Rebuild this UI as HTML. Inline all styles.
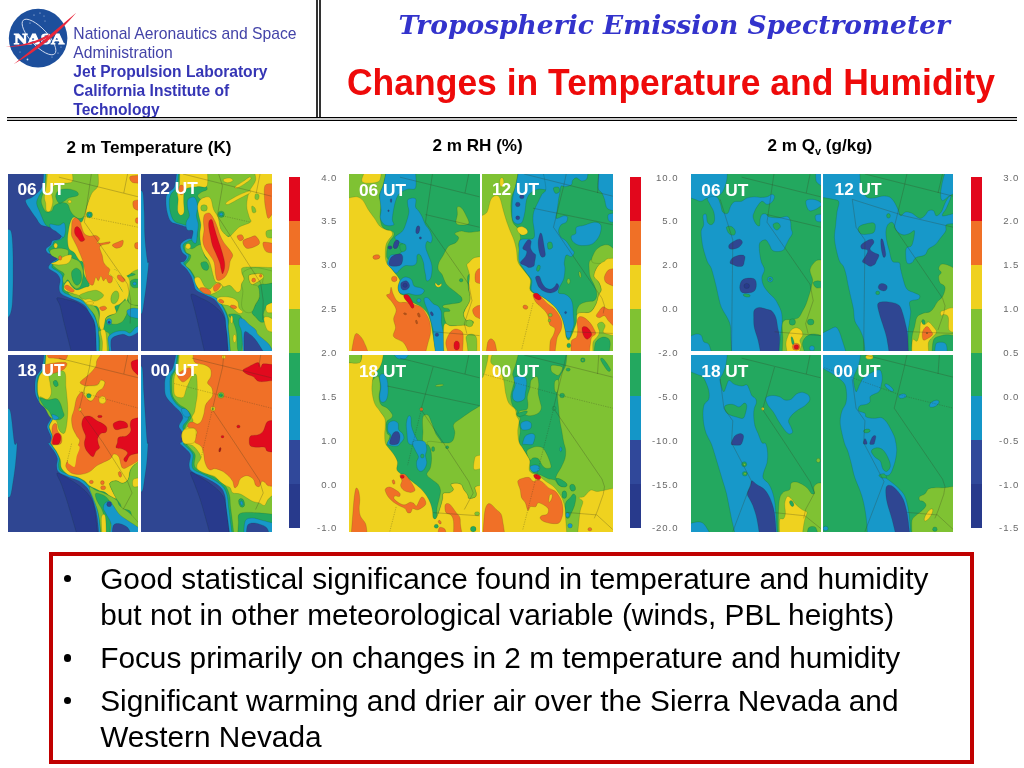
<!DOCTYPE html>
<html lang="en">
<head>
<meta charset="utf-8">
<title>Changes in Temperature and Humidity</title>
<style>
html,body{margin:0;padding:0;background:#fff;}
body{width:1024px;height:768px;position:relative;overflow:hidden;font-family:"Liberation Sans",sans-serif;}
.abs{position:absolute;white-space:nowrap;line-height:1;}
.hl{position:absolute;left:7px;width:1010px;height:1.2px;background:#000;}
.vl{position:absolute;top:0;width:2px;height:118px;background:#333;}
.org{color:#4343a8;font-size:15.7px;left:73.3px;}
.orgb{color:#3535b5;font-size:15.6px;font-weight:bold;left:73.3px;}
.t1{font-family:"DejaVu Serif","Liberation Serif",serif;font-weight:bold;font-style:italic;color:#3333cc;font-size:26.5px;left:398.5px;top:11.7px;transform-origin:0 0;}
.t2{font-weight:bold;color:#ee0a0a;font-size:36.4px;left:346.5px;top:65.1px;transform-origin:0 0;transform:scaleX(.975);}
.gt{font-weight:bold;color:#000;font-size:17.1px;}
.map{position:absolute;display:block;}
.c{stroke:#143214;stroke-opacity:.38;stroke-width:3.2;}
.ut{position:absolute;color:#fff;font-weight:bold;font-size:17.3px;line-height:1;white-space:nowrap;}
.cb{position:absolute;width:11px;top:177px;height:351px;}
.cb i{display:block;height:12.5%;}
.cl{position:absolute;color:#6a6a6a;font-size:9.6px;line-height:1;letter-spacing:.9px;text-align:right;width:40px;}
.box{position:absolute;left:49.1px;top:552.4px;width:916.9px;height:203.4px;border:4.4px solid #c00000;}
.bl{position:absolute;left:100.2px;font-size:29.8px;line-height:1;white-space:nowrap;color:#000;}
.dot{position:absolute;left:63.6px;width:7.6px;height:7.6px;border-radius:50%;background:#000;}
</style>
</head>
<body>
<!-- NASA logo -->
<svg class="abs" style="left:0;top:0" width="90" height="80" viewBox="0 0 90 80">
<circle cx="38.1" cy="38.1" r="29.3" fill="#1d4f9c"/>
<ellipse cx="39" cy="37" rx="8.5" ry="23" fill="none" stroke="#d5def0" stroke-width=".9" transform="rotate(-43 39 37)"/>
<g fill="#c9d6ee"><circle cx="34" cy="15" r=".6"/><circle cx="40" cy="13" r=".6"/><circle cx="44" cy="16" r=".5"/><circle cx="30" cy="23" r=".6"/><circle cx="27.5" cy="59.5" r=".9"/><circle cx="58" cy="53" r=".6"/><circle cx="61" cy="47" r=".5"/><circle cx="20" cy="52" r=".5"/><circle cx="45" cy="21" r=".5"/><circle cx="52" cy="57" r=".5"/></g>
<text x="39.2" y="43.7" text-anchor="middle" font-family="Liberation Serif,serif" font-weight="bold" font-size="14" fill="#fff" textLength="50.5" lengthAdjust="spacingAndGlyphs" stroke="#fff" stroke-width=".8">NASA</text>
<path d="M76.2,12.8 Q46.5,38.5 13.6,64.2 Q51,43 76.2,12.8Z" fill="#e8283c"/>
<path d="M5.5,46.9 C22,45.2 36,42.3 50,33.5 L47.5,37.5 C36,44 24,46.6 5.5,46.9Z" fill="#e8283c"/>
</svg>
<div class="abs org" style="top:26px">National Aeronautics and Space</div>
<div class="abs org" style="top:44.7px">Administration</div>
<div class="abs orgb" style="top:64.1px">Jet Propulsion Laboratory</div>
<div class="abs orgb" style="top:83px">California Institute of</div>
<div class="abs orgb" style="top:101.5px">Technology</div>
<div class="vl" style="left:316px"></div><div class="vl" style="left:319px"></div>
<div style="position:absolute;left:7px;width:1010px;top:117px;height:4px;background:#cbcbcb"></div>
<div class="hl" style="top:116.9px"></div><div class="hl" style="top:119.9px"></div>
<div class="abs t1" id="t1">Tropospheric Emission Spectrometer</div>
<div class="abs t2" id="t2">Changes in Temperature and Humidity</div>

<div class="abs gt" id="g1" style="left:66.5px;top:139.2px">2 m Temperature (K)</div>
<div class="abs gt" id="g2" style="left:432.5px;top:136.7px">2 m RH (%)</div>
<div class="abs gt" id="g3" style="left:767.5px;top:136.7px">2 m Q<span style="font-size:10.8px;position:relative;top:4.3px">v</span> (g/kg)</div>

<svg class="map" style="left:8px;top:174px" width="130.3" height="176.7" viewBox="0 0 1024 1394" preserveAspectRatio="none">
<rect x="-20" y="-20" width="1064" height="1434" fill="#2f4692"/>
<path fill="#1798c9" class="c" d="M-10,440C-10,440 17,428 25,455C33,482 36,542 38,600C40,658 40,733 40,800C40,867 38,950 35,1000C32,1050 28,1077 20,1100C12,1123 -10,1140 -10,1140C-10,1140 -10,440 -10,440Z"/>
<path fill="#283a8c" class="c" d="M385,978C395,970 441,986 470,993C499,1000 532,1006 560,1023C588,1040 620,1068 640,1093C660,1118 672,1140 680,1173C688,1206 687,1253 690,1293C693,1333 700,1413 700,1413C700,1413 500,1413 500,1413C500,1413 455,1235 440,1173C425,1111 419,1076 410,1043C401,1010 375,986 385,978Z"/>
<path fill="#1798c9" class="c" d="M280,-30C280,-30 282,65 268,100C254,135 217,161 195,180C173,199 140,194 138,212C136,230 166,267 180,290C194,313 209,331 222,350C235,369 242,390 260,402C278,414 309,412 330,420C351,428 370,440 385,450C400,460 417,470 420,480C423,490 417,504 405,512C393,520 362,519 350,527C338,535 344,549 335,560C326,571 301,581 298,592C295,603 306,620 318,628C330,636 358,635 370,642C382,649 393,658 388,668C383,678 352,688 340,700C328,712 316,729 318,740C320,751 338,757 350,765C362,773 378,778 388,790C398,802 408,818 410,835C412,852 401,877 402,895C403,913 402,930 418,945C434,960 475,973 500,985C525,997 552,1005 570,1015C588,1025 598,1032 610,1045C622,1058 630,1078 640,1095C650,1112 662,1128 670,1145C678,1162 682,1177 685,1195C688,1213 688,1218 690,1255C692,1292 695,1420 695,1420C695,1420 1060,1420 1060,1420C1060,1420 1060,-30 1060,-30C1060,-30 280,-30 280,-30Z"/>
<path fill="#23a85f" class="c" d="M298,-30C298,-30 296,67 287,100C278,133 255,148 245,170C235,192 224,208 225,230C226,252 242,278 250,300C258,322 267,342 275,360C283,378 289,394 300,405C311,416 324,417 340,425C356,433 380,443 395,452C410,461 428,470 432,480C436,490 431,504 420,512C409,520 377,522 365,530C353,538 358,550 350,560C342,570 320,581 318,592C316,603 327,617 338,625C349,633 374,633 385,640C396,647 406,658 402,668C398,678 370,689 360,700C350,711 342,725 345,735C348,745 368,751 380,760C392,769 411,778 420,790C429,802 431,818 432,835C433,852 424,878 425,895C426,912 426,923 440,935C454,947 487,955 510,965C533,975 560,983 580,995C600,1007 617,1020 630,1035C643,1050 650,1067 660,1085C670,1103 682,1127 690,1145C698,1163 701,1177 705,1195C709,1213 710,1218 712,1255C714,1292 715,1420 715,1420C715,1420 1060,1420 1060,1420C1060,1420 1060,-30 1060,-30C1060,-30 298,-30 298,-30Z"/>
<path fill="#1798c9" class="c" d="M330,395C340,391 382,407 400,405C418,403 431,379 440,385C449,391 452,421 452,440C452,459 445,493 438,500C431,507 422,490 412,482C402,474 392,464 380,455C368,446 348,440 340,430C332,420 320,399 330,395Z"/>
<path fill="#7fc233" class="c" d="M300,-30C300,-30 720,-30 720,-30C720,-30 724,60 715,90C706,120 680,125 665,150C650,175 636,210 625,240C614,270 611,311 600,330C589,349 573,352 560,352C547,352 532,340 520,330C508,320 498,305 490,290C482,275 480,251 470,240C460,229 443,226 430,225C417,224 402,230 390,235C378,240 368,246 360,255C352,264 355,283 345,290C335,297 312,305 300,298C288,291 276,266 270,250C264,234 259,225 262,200C265,175 284,138 290,100C296,62 300,-30 300,-30Z"/>
<path fill="#23a85f" class="c" d="M375,175C375,159 384,140 400,130C416,120 447,117 470,118C493,119 527,129 540,138C553,147 558,162 548,170C538,178 498,180 480,188C462,196 453,208 440,215C427,222 411,235 400,228C389,221 375,191 375,175Z"/>
<path fill="#7fc233" class="c" d="M335,600C345,591 378,585 400,585C422,585 457,589 470,600C483,611 465,635 480,650C495,665 542,672 560,690C578,708 585,742 590,760C595,778 592,781 590,800C588,819 583,858 575,875C567,892 552,905 540,905C528,905 512,887 500,875C488,863 480,837 470,835C460,833 447,867 440,865C433,863 430,838 430,825C430,812 448,798 440,785C432,772 395,758 380,745C365,732 347,721 350,710C353,699 402,692 400,680C398,668 351,653 340,640C329,627 325,609 335,600Z"/>
<path fill="#23a85f" class="c" d="M505,763C512,753 529,741 540,743C551,745 566,756 572,773C578,790 580,826 575,843C570,860 555,876 545,878C535,880 522,866 515,853C508,840 502,818 500,803C498,788 498,773 505,763Z"/>
<path fill="#7fc233" class="c" d="M470,931C473,928 502,944 520,945C538,946 565,932 580,935C595,938 600,950 610,963C620,976 627,998 640,1013C653,1028 678,1036 690,1053C702,1070 711,1086 715,1113C719,1140 718,1203 715,1213C712,1223 706,1190 700,1173C694,1156 690,1131 680,1113C670,1095 653,1080 640,1063C627,1046 613,1026 600,1013C587,1000 577,993 560,985C543,977 515,974 500,965C485,956 467,934 470,931Z"/>
<path fill="#7fc233" class="c" d="M770,1138C778,1124 832,1110 850,1093C868,1076 867,1050 880,1033C893,1016 917,995 930,993C943,991 942,1015 960,1023C978,1031 1040,1043 1040,1043C1040,1043 1040,1065 1040,1065C1040,1065 968,1067 950,1075C932,1083 938,1098 930,1113C922,1128 913,1151 900,1163C887,1175 867,1183 850,1185C833,1187 813,1183 800,1175C787,1167 762,1152 770,1138Z"/>
<path fill="#7fc233" class="c" d="M880,753C888,743 923,725 950,713C977,701 1040,683 1040,683C1040,683 1040,1038 1040,1038C1040,1038 977,1037 960,1023C943,1009 942,978 940,953C938,928 952,895 950,873C948,851 922,836 930,823C938,810 995,800 1000,793C1005,786 977,786 960,783C943,780 913,780 900,775C887,770 872,763 880,753Z"/>
<path fill="#7fc233" class="c" d="M715,1238C726,1228 776,1240 790,1253C804,1266 800,1286 800,1313C800,1340 790,1413 790,1413C790,1413 720,1413 720,1413C720,1413 723,1342 722,1313C721,1284 704,1248 715,1238Z"/>
<path fill="#efd21f" class="c" d="M312,-30C312,-30 500,-30 500,-30C500,-30 518,42 505,60C492,78 446,68 420,75C394,82 365,88 352,100C339,112 342,130 342,150C342,170 354,197 352,220C350,243 340,278 332,290C324,302 308,300 302,290C296,280 299,248 296,230C293,212 285,202 286,180C287,158 296,135 300,100C304,65 312,-30 312,-30Z"/>
<path fill="#efd21f" class="c" d="M705,-30C705,-30 1060,-30 1060,-30C1060,-30 1060,740 1060,740C1060,740 1008,756 990,765C972,774 965,787 950,795C935,803 912,816 900,815C888,814 890,800 880,790C870,780 853,756 840,755C827,754 800,773 800,785C800,797 828,810 840,825C852,840 860,858 870,875C880,892 890,912 900,925C910,938 927,945 930,955C933,965 928,973 920,985C912,997 893,1015 880,1025C867,1035 845,1033 840,1045C835,1057 857,1083 850,1095C843,1107 813,1108 800,1115C787,1122 777,1125 770,1135C763,1145 764,1158 760,1175C756,1192 751,1233 745,1240C739,1247 727,1228 722,1215C717,1202 715,1185 715,1165C715,1145 722,1115 720,1095C718,1075 713,1055 700,1045C687,1035 657,1042 640,1035C623,1028 613,1018 600,1005C587,992 577,971 560,960C543,949 518,947 500,940C482,933 460,929 450,920C440,911 437,898 440,885C443,872 460,845 470,845C480,845 488,873 500,885C512,897 523,913 540,915C557,917 583,902 600,895C617,888 640,892 640,875C640,858 608,824 600,795C592,766 597,719 590,700C583,681 572,693 560,680C548,667 533,635 520,620C507,605 489,607 480,590C471,573 469,543 468,520C467,497 471,473 475,450C479,427 482,398 490,380C498,362 506,340 520,340C534,340 562,382 575,380C588,378 592,353 600,330C608,307 615,270 625,240C635,210 646,175 660,150C674,125 700,120 708,90C716,60 705,-30 705,-30Z"/>
<path fill="#efd21f" class="c" d="M440,650C460,642 494,631 500,640C506,649 492,689 475,702C458,715 422,716 400,717C378,718 343,712 340,707C337,702 363,700 380,690C397,680 420,658 440,650Z"/>
<path fill="#efd21f" d="M780,733C794,731 852,759 880,773C908,787 932,798 945,818C958,838 955,870 955,893C955,916 949,936 945,953C941,970 938,1003 930,998C922,993 910,944 900,923C890,902 881,890 870,873C859,856 848,838 835,823C822,808 804,798 795,783C786,768 766,735 780,733Z"/>
<ellipse fill="#efd21f" class="c" cx="485" cy="218" rx="14" ry="12"/>
<ellipse fill="#efd21f" class="c" cx="375" cy="565" rx="15" ry="20"/>
<path fill="#efd21f" class="c" d="M728,1238C731,1223 754,1222 762,1233C770,1244 772,1273 775,1303C778,1333 780,1413 780,1413C780,1413 738,1413 738,1413C738,1413 744,1352 742,1323C740,1294 725,1253 728,1238Z"/>
<path fill="#7fc233" class="c" d="M560,961C560,952 585,944 600,938C615,932 633,926 650,923C667,920 683,914 700,919C717,924 745,942 750,953C755,964 742,975 730,983C718,991 695,1003 680,1003C665,1003 653,987 640,985C627,983 613,993 600,989C587,985 560,970 560,961Z"/>
<ellipse fill="#7fc233" class="c" cx="840" cy="973" rx="30" ry="52" transform="rotate(15 840 973)"/>
<ellipse fill="#efd21f" class="c" cx="645" cy="1018" rx="30" ry="12"/>
<path fill="#f07027" class="c" d="M505,370C500,382 501,402 500,420C499,438 495,462 498,480C501,498 512,513 520,530C528,547 537,562 545,580C553,598 562,621 570,640C578,659 585,676 590,693C595,710 597,724 600,740C603,756 607,774 610,790C613,806 614,822 620,835C626,848 637,864 645,870C653,876 662,882 670,873C678,864 683,820 690,815C697,810 703,845 710,843C717,841 723,805 730,805C737,805 743,840 750,843C757,846 763,820 770,823C777,826 782,853 790,858C798,863 810,860 815,853C820,846 824,823 820,813C816,803 793,803 790,793C787,783 803,765 800,753C797,741 778,733 770,723C762,713 755,707 750,693C745,679 745,659 740,640C735,621 720,593 720,580C720,567 728,565 740,560C752,555 780,554 790,550C800,546 808,536 800,535C792,534 757,543 740,545C723,547 703,551 700,545C697,539 722,520 720,510C718,500 703,488 690,485C677,482 655,492 640,490C625,488 610,482 600,470C590,458 586,437 580,420C574,403 573,382 565,370C557,358 540,345 530,345C520,345 510,358 505,370Z"/>
<path fill="#e10a1e" class="c" d="M525,430C528,421 538,413 545,415C552,417 562,428 570,440C578,452 585,477 590,490C595,503 605,513 602,520C599,527 582,535 572,532C562,529 553,510 545,500C537,490 528,482 525,470C522,458 522,439 525,430Z"/>
<path fill="#f07027" class="c" d="M820,560C823,552 856,541 870,535C884,529 901,519 905,525C909,531 904,560 895,570C886,580 862,587 850,585C838,583 817,568 820,560Z"/>
<path fill="#f07027" class="c" d="M960,20C971,11 1040,12 1040,12C1040,12 1040,72 1040,72C1040,72 988,74 975,65C962,56 949,29 960,20Z"/>
<path fill="#f07027" class="c" d="M985,215C993,204 1040,203 1040,203C1040,203 1040,292 1040,292C1040,292 999,283 990,270C981,257 977,226 985,215Z"/>
<path fill="#f07027" class="c" d="M1005,350C1011,343 1040,345 1040,345C1040,345 1040,392 1040,392C1040,392 1011,392 1005,385C999,378 999,357 1005,350Z"/>
<path fill="#f07027" class="c" d="M1000,545C1007,538 1040,540 1040,540C1040,540 1040,592 1040,592C1040,592 1007,593 1000,585C993,577 993,552 1000,545Z"/>
<ellipse fill="#f07027" class="c" cx="410" cy="662" rx="13" ry="18"/>
<path fill="#f07027" class="c" d="M445,888C448,883 458,873 470,878C482,883 515,909 520,918C525,927 511,935 500,933C489,931 464,916 455,908C446,900 442,893 445,888Z"/>
<path fill="#f07027" class="c" d="M860,803C862,798 870,793 880,798C890,803 917,824 920,833C923,842 909,854 900,853C891,852 872,836 865,828C858,820 858,808 860,803Z"/>
<path fill="#f07027" class="c" d="M720,1053C723,1047 751,1041 760,1043C769,1045 778,1057 775,1063C772,1069 749,1080 740,1078C731,1076 717,1059 720,1053Z"/>
<ellipse fill="#23a85f" class="c" cx="640" cy="322" rx="24" ry="24"/>
<ellipse fill="#1798c9" class="c" cx="640" cy="322" rx="11" ry="11"/>
<path fill="#23a85f" class="c" d="M965,843C971,835 988,830 1000,828C1012,826 1040,833 1040,833C1040,833 1040,893 1040,893C1040,893 1002,900 990,898C978,896 969,887 965,878C961,869 959,851 965,843Z"/>
<ellipse fill="#1798c9" class="c" cx="995" cy="865" rx="14" ry="12"/>
<ellipse fill="#1798c9" class="c" cx="795" cy="1165" rx="20" ry="24"/>
<ellipse fill="#2f4692" class="c" cx="795" cy="1170" rx="9" ry="10"/>
<path fill="#1798c9" class="c" d="M935,1078C941,1068 968,1060 985,1058C1002,1056 1040,1068 1040,1068C1040,1068 1040,1143 1040,1143C1040,1143 1000,1137 985,1133C970,1129 958,1127 950,1118C942,1109 929,1088 935,1078Z"/>
<path fill="#1798c9" class="c" d="M790,1283C800,1266 828,1250 850,1243C872,1236 902,1236 920,1238C938,1240 947,1259 960,1255C973,1251 987,1223 1000,1213C1013,1203 1040,1193 1040,1193C1040,1193 1040,1413 1040,1413C1040,1413 800,1413 800,1413C800,1413 792,1365 790,1343C788,1321 780,1300 790,1283Z"/>
<path fill="#2f4692" class="c" d="M820,1293C835,1280 877,1267 900,1265C923,1263 937,1286 960,1281C983,1276 1040,1238 1040,1238C1040,1238 1040,1413 1040,1413C1040,1413 815,1413 815,1413C815,1413 807,1363 808,1343C809,1323 805,1306 820,1293Z"/>
<path fill="none" stroke="#3a3a20" stroke-width="4" stroke-opacity=".55" d="M655,0C655,0 600,380 600,380C600,380 940,870 940,870C940,870 965,1000 965,1000C965,1000 960,1180 960,1180"/>
<path fill="none" stroke="#3a3a20" stroke-width="4" stroke-opacity=".55" d="M400,25 L1024,180"/>
<path fill="none" stroke="#3a3a20" stroke-width="4" stroke-opacity=".55" d="M940,0 L910,150"/>
<path fill="none" stroke="#3a3a20" stroke-width="4" stroke-opacity=".55" stroke-dasharray="10 9" d="M600,335 L1024,420"/>
</svg>
<div class="ut" style="left:17.5px;top:181.3px">06 UT</div>
<svg class="map" style="left:141.2px;top:174px" width="130.4" height="176.7" viewBox="0 0 1024 1394" preserveAspectRatio="none">
<rect x="-20" y="-20" width="1064" height="1434" fill="#2f4692"/>
<path fill="#1798c9" class="c" d="M-10,130C-10,130 9,122 15,150C21,178 22,242 25,300C28,358 26,435 30,500C34,565 45,655 50,688C55,721 61,673 60,700C59,727 51,800 45,850C39,900 31,960 25,1000C19,1040 16,1072 10,1090C4,1108 -10,1110 -10,1110C-10,1110 -10,130 -10,130Z"/>
<path fill="#283a8c" class="c" d="M395,948C405,940 442,965 470,978C498,991 532,1006 560,1028C588,1050 622,1078 640,1108C658,1138 663,1158 670,1208C677,1258 680,1408 680,1408C680,1408 500,1408 500,1408C500,1408 455,1211 440,1148C425,1085 418,1061 410,1028C402,995 385,956 395,948Z"/>
<path fill="#1798c9" class="c" d="M282,-30C282,-30 274,70 262,100C250,130 221,133 210,150C199,167 197,175 196,200C195,225 198,271 205,300C212,329 219,358 235,375C251,392 271,389 300,400C329,411 390,423 410,440C430,457 430,487 420,500C410,513 368,510 350,520C332,530 314,543 310,560C306,577 317,605 325,620C333,635 356,639 358,650C360,661 348,680 340,688C332,696 308,690 310,700C312,710 341,730 355,748C369,766 385,788 395,808C405,828 408,850 415,868C422,886 418,903 435,918C452,933 492,946 515,958C538,970 558,975 575,988C592,1001 603,1021 615,1038C627,1055 637,1071 645,1088C653,1105 658,1118 662,1138C666,1158 665,1183 668,1208C671,1233 675,1253 678,1288C681,1323 688,1420 688,1420C688,1420 1060,1420 1060,1420C1060,1420 1060,-30 1060,-30C1060,-30 282,-30 282,-30Z"/>
<path fill="#23a85f" class="c" d="M296,-30C296,-30 290,68 280,100C270,132 245,138 235,160C225,182 222,205 222,230C222,255 225,286 232,310C239,334 247,358 262,372C277,386 293,385 320,395C347,405 405,412 425,430C445,448 448,483 438,500C428,517 386,520 368,530C350,540 334,548 330,562C326,576 338,602 345,615C352,628 372,629 375,640C378,651 367,669 360,680C353,691 332,694 335,705C338,716 362,731 375,748C388,765 402,788 412,808C422,828 425,851 432,868C439,885 436,895 452,908C468,921 507,934 530,945C553,956 573,961 590,975C607,989 620,1011 632,1030C644,1049 654,1070 662,1088C670,1106 676,1118 680,1138C684,1158 684,1183 686,1208C688,1233 691,1253 694,1288C697,1323 704,1420 704,1420C704,1420 1060,1420 1060,1420C1060,1420 1060,-30 1060,-30C1060,-30 296,-30 296,-30Z"/>
<path fill="#1798c9" class="c" d="M370,200C379,188 408,177 420,185C432,193 442,226 445,250C448,274 434,305 435,330C436,355 449,377 450,400C451,423 445,446 442,470C439,494 439,537 432,545C425,553 404,536 400,520C396,504 414,463 408,450C402,437 371,452 362,440C353,428 352,398 355,380C358,362 378,350 380,330C382,310 367,282 365,260C363,238 361,212 370,200Z"/>
<path fill="#7fc233" class="c" d="M505,-30C505,-30 1060,-30 1060,-30C1060,-30 1060,500 1060,500C1060,500 920,482 860,480C800,478 733,490 700,490C667,490 673,490 660,480C647,470 630,453 620,430C610,407 610,365 600,340C590,315 570,303 560,280C550,257 550,216 540,200C530,184 512,185 500,185C488,185 479,202 470,200C461,198 443,180 445,170C447,160 468,148 480,140C492,132 516,133 520,120C524,107 504,85 502,60C500,35 505,-30 505,-30Z"/>
<path fill="#7fc233" class="c" d="M345,565C352,560 378,591 400,590C422,589 453,543 480,560C507,577 463,668 560,690C657,712 1060,690 1060,690C1060,690 1060,1420 1060,1420C1060,1420 704,1420 704,1420C704,1420 697,1323 694,1288C691,1253 687,1231 686,1208C685,1185 693,1170 690,1150C687,1130 678,1109 670,1090C662,1071 652,1052 640,1035C628,1018 617,998 600,985C583,972 562,966 540,955C518,944 487,932 470,920C453,908 448,897 440,880C432,863 433,840 425,820C417,800 402,777 390,760C378,743 352,733 350,720C348,707 373,693 380,680C387,667 394,650 390,640C386,630 362,632 355,620C348,608 338,570 345,565Z"/>
<path fill="#23a85f" class="c" d="M470,703C474,694 500,689 510,693C520,697 530,717 532,728C534,739 528,757 520,760C512,763 493,758 485,748C477,738 466,712 470,703Z"/>
<path fill="#23a85f" class="c" d="M920,888C925,871 940,873 960,868C980,863 1040,858 1040,858C1040,858 1040,1018 1040,1018C1040,1018 1003,1023 990,1038C977,1053 962,1088 960,1108C958,1128 983,1148 980,1158C977,1168 953,1173 940,1168C927,1163 912,1141 900,1128C888,1115 870,1105 870,1088C870,1071 890,1048 900,1028C910,1008 927,991 930,968C933,945 915,905 920,888Z"/>
<path fill="#23a85f" class="c" d="M690,1108C700,1101 762,1101 780,1118C798,1135 798,1163 800,1208C802,1253 797,1358 790,1388C783,1418 767,1411 760,1388C753,1365 757,1286 750,1248C743,1210 730,1181 720,1158C710,1135 680,1115 690,1108Z"/>
<path fill="#efd21f" class="c" d="M305,-30C305,-30 520,-30 520,-30C520,-30 531,73 518,95C505,117 468,96 440,100C412,104 368,103 350,120C332,137 337,170 335,200C333,230 342,279 338,300C334,321 318,327 310,325C302,323 291,311 288,290C285,269 292,223 292,200C292,177 284,167 285,150C286,133 297,130 300,100C303,70 305,-30 305,-30Z"/>
<path fill="#efd21f" class="c" d="M445,250C448,228 458,212 470,200C482,188 507,180 520,180C533,180 542,183 550,200C558,217 561,257 570,280C579,303 596,315 605,340C614,365 615,407 625,430C635,453 652,470 665,480C678,490 682,500 700,490C718,480 743,438 770,420C797,402 847,393 860,380C873,367 855,362 850,340C845,318 830,283 830,250C830,217 838,173 850,140C862,107 894,78 900,50C906,22 885,-30 885,-30C885,-30 1060,-30 1060,-30C1060,-30 1060,740 1060,740C1060,740 865,730 820,735C775,740 792,754 790,770C788,786 810,813 810,830C810,847 795,855 790,870C785,885 787,910 780,920C773,930 763,937 750,930C737,923 717,887 700,880C683,873 663,893 650,890C637,887 632,868 620,860C608,852 593,867 580,840C567,813 553,733 540,700C527,667 512,663 500,640C488,617 476,588 470,560C464,532 462,497 462,470C462,443 471,423 470,400C469,377 459,355 455,330C451,305 442,272 445,250Z"/>
<path fill="#efd21f" class="c" d="M650,40C658,35 688,30 700,32C712,34 724,46 722,52C720,58 701,66 690,68C679,70 662,67 655,62C648,57 642,45 650,40Z"/>
<path fill="#efd21f" class="c" d="M670,225C682,213 730,185 760,170C790,155 834,138 850,135C866,132 868,140 855,150C842,160 798,180 770,195C742,210 702,235 685,240C668,245 658,237 670,225Z"/>
<path fill="#efd21f" class="c" d="M740,100C748,91 782,72 800,60C818,48 840,28 850,25C860,22 869,31 862,40C855,49 829,68 810,80C791,92 762,109 750,112C738,115 732,109 740,100Z"/>
<ellipse fill="#7fc233" class="c" cx="495" cy="268" rx="26" ry="26"/>
<ellipse fill="#efd21f" class="c" cx="370" cy="570" rx="20" ry="22"/>
<path fill="#7fc233" class="c" d="M870,255C873,249 890,260 895,268C900,276 905,294 902,300C899,306 881,310 876,302C871,294 867,261 870,255Z"/>
<path fill="#7fc233" class="c" d="M900,158C905,153 922,158 926,165C930,172 926,195 921,200C916,205 900,203 896,196C892,189 895,163 900,158Z"/>
<path fill="#7fc233" class="c" d="M985,450C993,440 1040,440 1040,440C1040,440 1040,505 1040,505C1040,505 999,509 990,500C981,491 977,460 985,450Z"/>
<path fill="#efd21f" class="c" d="M420,828C423,816 447,808 460,818C473,828 487,873 500,888C513,903 528,910 540,908C552,906 560,886 570,878C580,870 588,856 600,858C612,860 640,876 640,888C640,900 617,918 600,928C583,938 560,950 540,950C520,950 497,940 480,930C463,920 450,905 440,888C430,871 417,840 420,828Z"/>
<path fill="#efd21f" class="c" d="M600,978C608,971 630,968 650,968C670,968 702,971 720,978C738,985 752,995 760,1008C768,1021 763,1045 770,1058C777,1071 800,1081 800,1088C800,1095 782,1103 770,1100C758,1097 743,1080 730,1070C717,1060 705,1047 690,1040C675,1033 654,1035 640,1030C626,1025 612,1019 605,1010C598,1001 592,985 600,978Z"/>
<path fill="#efd21f" class="c" d="M850,798C858,790 883,790 900,788C917,786 940,783 950,788C960,793 968,806 960,818C952,830 915,851 900,860C885,869 878,874 870,870C862,866 853,850 850,838C847,826 842,806 850,798Z"/>
<path fill="#efd21f" class="c" d="M985,1038C993,1025 1040,1013 1040,1013C1040,1013 1040,1093 1040,1093C1040,1093 999,1099 990,1090C981,1081 977,1051 985,1038Z"/>
<path fill="#efd21f" class="c" d="M965,1138C967,1121 988,1126 1000,1128C1012,1130 1040,1148 1040,1148C1040,1148 1040,1248 1040,1248C1040,1248 1002,1246 990,1228C978,1210 963,1155 965,1138Z"/>
<path fill="#7fc233" class="c" d="M800,778C807,765 833,755 850,748C867,741 882,738 900,738C918,738 937,743 960,748C983,753 1040,768 1040,768C1040,768 1040,858 1040,858C1040,858 973,875 960,868C947,861 962,831 960,818C958,805 960,793 950,788C940,783 917,786 900,788C883,790 858,790 850,798C842,806 847,826 850,838C853,850 858,862 870,870C882,878 910,872 920,888C930,904 933,945 930,968C927,991 910,1008 900,1028C890,1048 883,1078 870,1088C857,1098 833,1096 820,1088C807,1080 793,1065 790,1038C787,1011 800,956 800,928C800,900 788,885 790,868C792,851 808,843 810,828C812,813 793,791 800,778Z"/>
<path fill="#efd21f" class="c" d="M850,798C858,790 883,790 900,788C917,786 940,783 950,788C960,793 968,806 960,818C952,830 915,851 900,860C885,869 878,874 870,870C862,866 853,850 850,838C847,826 842,806 850,798Z"/>
<ellipse fill="#efd21f" class="c" cx="735" cy="1298" rx="12" ry="32"/>
<ellipse fill="#efd21f" class="c" cx="712" cy="1148" rx="9" ry="30"/>
<path fill="#f07027" class="c" d="M500,320C508,310 527,302 540,310C553,318 570,352 580,370C590,388 593,402 600,420C607,438 612,460 620,480C628,500 638,522 650,540C662,558 678,573 690,590C702,607 718,624 720,640C722,656 705,670 700,688C695,706 695,730 690,748C685,766 678,785 670,798C662,811 652,821 640,828C628,835 609,845 600,838C591,831 589,811 585,788C581,765 582,725 575,700C568,675 552,660 540,640C528,620 509,600 500,580C491,560 486,543 485,520C484,497 494,465 495,440C496,415 489,390 490,370C491,350 492,330 500,320Z"/>
<path fill="#e10a1e" class="c" d="M535,370C539,360 551,354 558,362C565,370 569,400 575,420C581,440 586,460 592,480C598,500 605,520 612,540C619,560 625,575 632,600C639,625 651,663 655,688C659,713 658,731 655,748C652,765 644,788 640,788C636,788 632,763 628,748C624,733 625,721 618,700C611,679 595,643 585,620C575,597 567,582 560,560C553,538 550,513 545,490C540,467 534,440 532,420C530,400 531,380 535,370Z"/>
<path fill="#f07027" class="c" d="M800,530C805,516 843,507 860,500C877,493 888,483 900,490C912,497 932,527 932,540C932,553 917,562 900,570C883,578 847,593 830,586C813,579 795,544 800,530Z"/>
<path fill="#f07027" class="c" d="M755,490C758,482 782,477 790,480C798,483 808,502 806,510C804,518 784,529 775,526C766,523 752,498 755,490Z"/>
<path fill="#f07027" class="c" d="M975,90C987,70 1040,78 1040,78C1040,78 1040,300 1040,300C1040,300 1010,353 1000,350C990,347 985,305 980,280C975,255 971,232 970,200C969,168 963,110 975,90Z"/>
<path fill="#f07027" class="c" d="M960,540C970,530 1040,550 1040,550C1040,550 1040,622 1040,622C1040,622 993,624 980,610C967,596 950,550 960,540Z"/>
<path fill="#f07027" class="c" d="M460,903C462,896 486,895 500,898C514,901 538,914 545,923C552,932 549,948 540,950C531,952 503,946 490,938C477,930 458,910 460,903Z"/>
<path fill="#f07027" class="c" d="M570,888C574,878 591,865 600,863C609,861 626,869 626,878C626,887 608,910 600,918C592,926 580,929 575,924C570,919 566,898 570,888Z"/>
<ellipse fill="#f07027" class="c" cx="630" cy="1004" rx="22" ry="14" transform="rotate(25 630 1004)"/>
<ellipse fill="#f07027" class="c" cx="726" cy="1048" rx="26" ry="13" transform="rotate(15 726 1048)"/>
<ellipse fill="#f07027" class="c" cx="885" cy="838" rx="15" ry="17"/>
<ellipse fill="#f07027" class="c" cx="940" cy="803" rx="10" ry="12"/>
<ellipse fill="#f07027" class="c" cx="318" cy="125" rx="22" ry="38"/>
<ellipse fill="#23a85f" class="c" cx="630" cy="318" rx="25" ry="25"/>
<ellipse fill="#1798c9" class="c" cx="630" cy="318" rx="12" ry="12"/>
<path fill="#1798c9" class="c" d="M775,1138C782,1131 798,1140 810,1148C822,1156 835,1175 850,1188C865,1201 888,1215 900,1228C912,1241 903,1250 920,1268C937,1286 980,1315 1000,1338C1020,1361 1040,1408 1040,1408C1040,1408 800,1408 800,1408C800,1408 795,1285 790,1248C785,1211 772,1206 770,1188C768,1170 768,1145 775,1138Z"/>
<path fill="#2f4692" class="c" d="M812,1250C820,1227 845,1258 860,1268C875,1278 882,1285 900,1308C918,1331 965,1408 965,1408C965,1408 810,1408 810,1408C810,1408 804,1273 812,1250Z"/>
<path fill="none" stroke="#3a3a20" stroke-width="4" stroke-opacity=".55" d="M610,0C610,0 640,95 640,95C640,95 600,330 600,330C600,330 940,860 940,860C940,860 960,1000 960,1000C960,1000 955,1150 955,1150"/>
<path fill="none" stroke="#3a3a20" stroke-width="4" stroke-opacity=".55" d="M330,0 L1024,175"/>
<path fill="none" stroke="#3a3a20" stroke-width="4" stroke-opacity=".55" d="M935,0 L905,150"/>
<path fill="none" stroke="#3a3a20" stroke-width="4" stroke-opacity=".55" stroke-dasharray="10 9" d="M640,330 L860,380"/>
</svg>
<div class="ut" style="left:150.7px;top:180.4px">12 UT</div>
<svg class="map" style="left:8px;top:355px" width="130.3" height="176.5" viewBox="0 0 1024 1394" preserveAspectRatio="none">
<rect x="-20" y="-20" width="1064" height="1434" fill="#2f4692"/>
<path fill="#1798c9" class="c" d="M-10,430C-10,430 10,406 20,450C30,494 42,651 50,693C58,735 68,674 70,700C72,726 65,800 60,850C55,900 47,957 40,1000C33,1043 28,1089 20,1110C12,1131 -10,1125 -10,1125C-10,1125 -10,430 -10,430Z"/>
<path fill="#283a8c" class="c" d="M385,933C393,925 441,956 470,973C499,990 532,1010 560,1033C588,1056 620,1083 640,1113C660,1143 669,1163 680,1213C691,1263 705,1413 705,1413C705,1413 540,1413 540,1413C540,1413 490,1238 470,1173C450,1108 434,1063 420,1023C406,983 377,941 385,933Z"/>
<path fill="#1798c9" class="c" d="M285,-30C285,-30 278,67 268,100C258,133 231,145 222,170C213,195 212,223 212,250C212,277 213,305 222,330C231,355 250,380 268,400C286,420 316,433 328,450C340,467 341,482 338,500C335,518 311,543 308,560C305,577 313,585 318,600C323,615 336,634 338,650C340,666 331,685 328,693C325,701 313,690 318,700C323,710 346,736 358,755C370,774 384,795 388,815C392,835 381,857 383,875C385,893 382,910 398,925C414,940 451,953 478,965C505,977 535,982 558,995C581,1008 603,1028 618,1045C633,1062 640,1078 648,1095C656,1112 661,1125 668,1145C675,1165 682,1190 688,1215C694,1240 698,1261 703,1295C708,1329 715,1420 715,1420C715,1420 1060,1420 1060,1420C1060,1420 1060,-30 1060,-30C1060,-30 285,-30 285,-30Z"/>
<path fill="#23a85f" class="c" d="M295,-30C295,-30 290,67 280,100C270,133 245,145 236,170C227,195 226,223 226,250C226,277 227,306 236,330C245,354 262,376 280,395C298,414 330,428 342,445C354,462 355,481 352,500C349,519 325,543 322,560C319,577 327,585 332,600C337,615 350,634 352,650C354,666 345,684 342,693C339,702 330,695 335,705C340,715 361,737 372,755C383,773 398,796 402,815C406,834 395,853 397,870C399,887 396,902 412,915C428,928 464,939 490,950C516,961 546,966 570,980C594,994 617,1017 632,1035C647,1053 654,1072 662,1090C670,1108 675,1124 682,1145C689,1166 696,1190 702,1215C708,1240 712,1261 717,1295C722,1329 730,1420 730,1420C730,1420 1060,1420 1060,1420C1060,1420 1060,-30 1060,-30C1060,-30 295,-30 295,-30Z"/>
<path fill="#efd21f" class="c" d="M300,-30C300,-30 1060,-30 1060,-30C1060,-30 1060,850 1060,850C1060,850 1017,852 1000,863C983,874 969,893 960,913C951,933 955,966 945,983C935,1000 916,1011 900,1013C884,1015 867,993 850,993C833,993 805,1000 800,1013C795,1026 812,1053 820,1073C828,1093 853,1126 850,1133C847,1140 815,1121 800,1113C785,1105 773,1090 760,1083C747,1076 733,1078 720,1073C707,1068 693,1060 680,1053C667,1046 653,1043 640,1033C627,1023 617,1005 600,993C583,981 562,971 540,963C518,955 490,955 470,943C450,931 430,913 420,893C410,873 417,845 410,823C403,801 391,780 380,760C369,740 350,723 345,705C340,687 354,668 352,650C350,632 340,615 335,600C330,585 322,577 325,560C328,543 352,518 355,500C358,482 357,468 345,450C333,432 302,415 285,395C268,375 251,354 242,330C233,306 232,277 232,250C232,223 236,195 245,170C254,145 279,133 288,100C297,67 300,-30 300,-30Z"/>
<path fill="#7fc233" class="c" d="M330,150C348,135 419,113 440,130C461,147 451,213 455,250C459,287 462,317 465,350C468,383 471,415 470,450C469,485 465,532 460,560C455,588 450,615 440,620C430,625 410,607 400,590C390,573 392,537 380,520C368,503 345,507 330,490C315,473 303,438 290,420C277,402 257,395 250,380C243,365 240,335 250,330C260,325 295,355 310,350C325,345 337,322 340,300C343,278 332,245 330,220C328,195 312,165 330,150Z"/>
<path fill="#23a85f" class="c" d="M250,340C255,332 288,354 310,355C332,356 363,341 380,345C397,349 402,364 410,380C418,396 425,423 430,440C435,457 445,468 440,480C435,492 415,510 400,512C385,514 363,504 350,492C337,480 332,455 320,440C308,425 292,417 280,400C268,383 245,348 250,340Z"/>
<path fill="#1798c9" class="c" d="M345,470C348,465 371,475 380,480C389,485 403,495 400,500C397,505 369,517 360,512C351,507 342,475 345,470Z"/>
<ellipse fill="#23a85f" class="c" cx="375" cy="225" rx="18" ry="26" transform="rotate(-20 375 225)"/>
<path fill="#7fc233" class="c" d="M800,1013C805,1000 833,993 850,993C867,993 884,1015 900,1013C916,1011 933,1003 945,983C957,963 954,918 970,893C986,868 1040,833 1040,833C1040,833 1040,1333 1040,1333C1040,1333 993,1310 980,1293C967,1276 973,1246 960,1233C947,1220 913,1223 900,1213C887,1203 888,1186 880,1173C872,1160 860,1150 850,1133C840,1116 828,1093 820,1073C812,1053 795,1026 800,1013Z"/>
<path fill="#7fc233" class="c" d="M640,1043C645,1033 680,1065 700,1073C720,1081 735,1081 760,1093C785,1105 830,1126 850,1143C870,1160 862,1175 880,1193C898,1211 933,1228 960,1253C987,1278 1040,1343 1040,1343C1040,1343 1040,1413 1040,1413C1040,1413 730,1413 730,1413C730,1413 723,1326 718,1293C713,1260 708,1240 700,1213C692,1186 680,1161 670,1133C660,1105 635,1053 640,1043Z"/>
<path fill="#23a85f" class="c" d="M690,1093C700,1086 742,1101 760,1113C778,1125 792,1140 800,1163C808,1186 810,1211 810,1253C810,1295 800,1413 800,1413C800,1413 770,1413 770,1413C770,1413 766,1326 760,1293C754,1260 745,1236 735,1213C725,1190 708,1173 700,1153C692,1133 680,1100 690,1093Z"/>
<path fill="#efd21f" class="c" d="M985,983C994,972 1040,971 1040,971C1040,971 1040,1035 1040,1035C1040,1035 994,1048 985,1039C976,1030 976,994 985,983Z"/>
<path fill="#efd21f" class="c" d="M735,1278C740,1255 759,1250 765,1273C771,1296 772,1413 772,1413C772,1413 738,1413 738,1413C738,1413 730,1301 735,1278Z"/>
<path fill="#f07027" class="c" d="M310,-10C310,-10 470,-10 470,-10C470,-10 467,29 452,35C437,41 402,29 380,27C358,25 332,28 320,22C308,16 310,-10 310,-10Z"/>
<path fill="#f07027" class="c" d="M290,80C316,66 425,53 450,58C475,63 460,95 442,110C424,125 364,145 340,150C316,155 303,152 295,140C287,128 264,94 290,80Z"/>
<path fill="#f07027" class="c" d="M750,-30C750,-30 710,20 700,40C690,60 700,72 690,90C680,108 658,132 640,150C622,168 592,188 580,200C568,212 563,218 570,225C577,232 598,243 620,245C642,247 682,242 700,235C718,228 720,203 730,200C740,197 758,205 760,215C762,225 750,248 740,260C730,272 712,275 700,290C688,305 680,338 670,350C660,362 652,365 640,360C628,355 610,332 600,320C590,308 590,287 580,290C570,293 550,317 540,340C530,363 527,403 520,430C513,457 502,475 500,500C498,525 503,557 510,580C517,603 532,621 540,640C548,659 572,659 560,693C548,727 482,810 465,843C448,876 454,878 460,893C466,908 482,925 500,933C518,941 547,945 570,943C593,941 618,935 640,923C662,911 673,890 700,873C727,856 778,838 800,823C822,808 818,786 830,783C842,780 858,785 870,803C882,821 885,881 900,893C915,905 933,886 960,873C987,860 1060,813 1060,813C1060,813 1060,-30 1060,-30C1060,-30 750,-30 750,-30Z"/>
<path fill="#efd21f" class="c" d="M610,250C626,237 680,248 700,240C720,232 720,204 730,200C740,196 758,205 760,215C762,225 754,248 745,260C736,272 718,275 705,290C692,305 681,338 670,350C659,362 651,365 640,360C629,355 610,338 605,320C600,302 594,263 610,250Z"/>
<ellipse fill="#efd21f" class="c" cx="742" cy="355" rx="28" ry="30"/>
<ellipse fill="#efd21f" class="c" cx="565" cy="430" rx="12" ry="14"/>
<ellipse fill="#23a85f" class="c" cx="635" cy="322" rx="18" ry="18"/>
<path fill="#efd21f" d="M470,700C483,690 548,703 560,720C572,737 546,773 540,800C534,827 532,868 525,880C518,892 504,876 495,870C486,864 472,860 470,845C468,830 480,804 480,780C480,756 457,710 470,700Z"/>
<path fill="#f07027" class="c" d="M355,550C361,542 374,537 380,545C386,553 383,584 390,600C397,616 416,623 420,640C424,657 428,689 415,700C402,711 351,715 340,705C329,695 349,659 350,640C351,621 344,605 345,590C346,575 349,558 355,550Z"/>
<path fill="#e10a1e" class="c" d="M365,630C373,617 392,617 400,620C408,623 415,637 415,650C415,663 411,692 400,700C389,708 356,712 350,700C344,688 357,643 365,630Z"/>
<path fill="#e10a1e" class="c" d="M600,490C612,481 633,480 650,485C667,490 685,511 700,520C715,529 728,532 740,540C752,548 770,558 775,570C780,582 778,602 770,610C762,618 741,612 730,620C719,628 708,647 705,660C702,673 708,688 710,700C712,712 723,722 720,733C717,744 698,751 690,763C682,775 678,800 670,803C662,806 650,793 640,783C630,773 617,758 610,743C603,728 600,710 600,693C600,676 612,657 610,640C608,623 595,607 590,590C585,573 578,557 580,540C582,523 588,499 600,490Z"/>
<path fill="#e10a1e" class="c" d="M830,540C838,532 863,521 880,520C897,519 920,527 930,535C940,543 945,562 940,570C935,578 915,577 900,580C885,583 862,592 850,590C838,588 833,578 830,570C827,562 822,548 830,540Z"/>
<path fill="#e10a1e" class="c" d="M975,510C988,500 1040,493 1040,493C1040,493 1040,773 1040,773C1040,773 978,781 960,793C942,805 938,838 930,843C922,848 908,835 910,823C912,811 942,786 940,773C938,760 915,750 900,743C885,736 857,741 850,733C843,725 857,707 860,693C863,679 858,659 870,650C882,641 914,648 930,640C946,632 960,615 965,600C970,585 958,565 960,550C962,535 962,520 975,510Z"/>
<path fill="#e10a1e" class="c" d="M975,50C987,40 1040,33 1040,33C1040,33 1040,172 1040,172C1040,172 1002,144 990,130C978,116 972,103 970,90C968,77 963,60 975,50Z"/>
<ellipse fill="#e10a1e" class="c" cx="722" cy="485" rx="18" ry="10"/>
<ellipse fill="#f07027" class="c" cx="655" cy="1003" rx="16" ry="13"/>
<ellipse fill="#f07027" class="c" cx="742" cy="1008" rx="15" ry="16"/>
<ellipse fill="#f07027" class="c" cx="748" cy="1048" rx="20" ry="16"/>
<ellipse fill="#f07027" class="c" cx="880" cy="943" rx="12" ry="23" transform="rotate(-15 880 943)"/>
<path fill="#1798c9" class="c" d="M760,1173C768,1163 788,1150 800,1153C812,1156 818,1176 830,1193C842,1210 855,1236 870,1253C885,1270 902,1280 920,1293C938,1306 960,1320 980,1333C1000,1346 1040,1373 1040,1373C1040,1373 1040,1413 1040,1413C1040,1413 800,1413 800,1413C800,1413 815,1360 810,1333C805,1306 780,1273 770,1253C760,1233 752,1226 750,1213C748,1200 752,1183 760,1173Z"/>
<ellipse fill="#2f4692" class="c" cx="795" cy="1178" rx="19" ry="20"/>
<path fill="#2f4692" class="c" d="M830,1343C840,1330 862,1330 880,1333C898,1336 926,1350 940,1363C954,1376 965,1413 965,1413C965,1413 818,1413 818,1413C818,1413 820,1356 830,1343Z"/>
<path fill="none" stroke="#3a3a20" stroke-width="4" stroke-opacity=".55" d="M655,0C655,0 640,100 640,100C640,100 560,430 560,430C560,430 745,690 745,690C745,690 940,1000 940,1000C940,1000 975,1090 975,1090C975,1090 905,1220 905,1220"/>
<path fill="none" stroke="#3a3a20" stroke-width="4" stroke-opacity=".55" d="M400,25 L1024,180"/>
<path fill="none" stroke="#3a3a20" stroke-width="4" stroke-opacity=".55" d="M940,0 L910,150"/>
<path fill="none" stroke="#3a3a20" stroke-width="4" stroke-opacity=".55" stroke-dasharray="10 9" d="M560,290 L1024,420"/>
<path fill="none" stroke="#3a3a20" stroke-width="4" stroke-opacity=".55" stroke-dasharray="10 9" d="M500,700 L460,860"/>
</svg>
<div class="ut" style="left:17.5px;top:362.3px">18 UT</div>
<svg class="map" style="left:141.2px;top:355px" width="130.4" height="176.5" viewBox="0 0 1024 1394" preserveAspectRatio="none">
<rect x="-20" y="-20" width="1064" height="1434" fill="#2f4692"/>
<path fill="#1798c9" class="c" d="M-10,90C-10,90 7,75 12,110C17,145 18,235 22,300C26,365 31,435 35,500C39,565 45,655 48,688C51,721 56,673 55,700C54,727 50,800 45,850C40,900 30,963 25,1000C20,1037 18,1056 12,1070C6,1084 -10,1085 -10,1085C-10,1085 -10,90 -10,90Z"/>
<path fill="#283a8c" class="c" d="M390,928C398,920 442,951 470,968C498,985 532,1005 560,1028C588,1051 622,1078 640,1108C658,1138 661,1158 670,1208C679,1258 692,1408 692,1408C692,1408 540,1408 540,1408C540,1408 490,1223 470,1158C450,1093 433,1056 420,1018C407,980 382,936 390,928Z"/>
<path fill="#1798c9" class="c" d="M278,-30C278,-30 264,67 250,100C236,133 207,145 196,170C185,195 186,223 186,250C186,277 186,305 198,330C210,355 240,380 258,400C276,420 296,433 308,450C320,467 330,482 328,500C326,518 300,543 298,560C296,577 310,585 318,600C326,615 348,635 348,650C348,665 327,680 320,688C313,696 303,692 308,700C313,708 335,723 348,738C361,753 383,766 388,788C393,810 376,846 378,868C380,890 381,903 398,918C415,933 451,945 478,958C505,971 533,983 558,998C583,1013 611,1030 628,1048C645,1066 651,1085 658,1108C665,1131 665,1161 668,1188C671,1215 673,1229 678,1268C683,1307 698,1420 698,1420C698,1420 1060,1420 1060,1420C1060,1420 1060,-30 1060,-30C1060,-30 278,-30 278,-30Z"/>
<path fill="#23a85f" class="c" d="M288,-30C288,-30 279,67 270,100C261,133 239,145 232,170C225,195 227,223 228,250C229,277 230,306 240,330C250,354 268,377 285,395C302,413 330,422 345,440C360,458 374,480 372,500C370,520 335,543 330,560C325,577 334,585 340,600C346,615 365,635 366,650C367,665 350,679 345,688C340,697 331,697 335,705C339,713 358,724 370,738C382,752 403,766 408,788C413,810 398,848 400,868C402,888 402,895 418,908C434,921 469,932 495,945C521,958 547,969 572,985C597,1001 628,1020 645,1040C662,1060 669,1083 676,1108C683,1133 683,1161 686,1188C689,1215 691,1229 696,1268C701,1307 716,1420 716,1420C716,1420 1060,1420 1060,1420C1060,1420 1060,-30 1060,-30C1060,-30 288,-30 288,-30Z"/>
<path fill="#1798c9" class="c" d="M320,425C326,420 349,421 360,430C371,439 387,470 385,480C383,490 360,493 350,490C340,487 330,471 325,460C320,449 314,430 320,425Z"/>
<path fill="#7fc233" class="c" d="M296,-30C296,-30 288,67 280,100C272,133 252,145 246,170C240,195 241,223 242,250C243,277 242,307 252,330C262,353 282,373 300,390C318,407 344,413 360,430C376,447 397,468 395,490C393,512 357,542 350,560C343,578 350,585 355,600C360,615 379,635 380,650C381,665 365,680 360,688C355,696 347,692 352,700C357,708 376,723 388,738C400,753 420,767 425,788C430,809 416,843 418,862C420,881 423,888 438,900C453,912 486,923 510,935C534,947 560,956 585,972C610,988 642,1007 660,1030C678,1053 688,1082 695,1108C702,1134 699,1161 702,1188C705,1215 707,1229 712,1268C717,1307 730,1420 730,1420C730,1420 1060,1420 1060,1420C1060,1420 1060,-30 1060,-30C1060,-30 296,-30 296,-30Z"/>
<path fill="#23a85f" class="c" d="M770,1258C784,1244 805,1243 850,1243C895,1243 1040,1258 1040,1258C1040,1258 1040,1408 1040,1408C1040,1408 760,1408 760,1408C760,1408 763,1353 765,1328C767,1303 756,1272 770,1258Z"/>
<path fill="#1798c9" class="c" d="M820,1308C832,1288 857,1288 880,1288C903,1288 933,1301 960,1308C987,1315 1040,1328 1040,1328C1040,1328 1040,1408 1040,1408C1040,1408 808,1408 808,1408C808,1408 808,1328 820,1308Z"/>
<path fill="#2f4692" class="c" d="M840,1340C852,1327 877,1325 900,1328C923,1331 962,1345 980,1358C998,1371 1005,1408 1005,1408C1005,1408 828,1408 828,1408C828,1408 828,1353 840,1340Z"/>
<path fill="#efd21f" class="c" d="M302,-30C302,-30 297,67 290,100C283,133 267,145 262,170C257,195 257,225 258,250C259,275 256,306 268,320C280,334 316,343 330,335C344,327 347,291 355,270C363,249 372,227 380,210C388,193 391,178 400,170C409,162 428,138 435,160C442,182 442,263 442,300C442,337 436,355 432,380C428,405 425,432 420,450C415,468 402,477 400,490C398,503 417,512 405,530C393,548 344,580 330,600C316,620 318,633 320,650C322,667 332,690 345,700C358,710 384,704 400,712C416,720 428,734 440,750C452,766 470,790 470,810C470,830 443,852 440,868C437,884 437,896 450,908C463,920 498,931 520,940C542,949 563,950 580,960C597,970 607,989 620,1000C633,1011 647,1020 660,1028C673,1036 690,1038 700,1048C710,1058 707,1080 720,1088C733,1096 762,1091 780,1098C798,1105 813,1118 830,1128C847,1138 863,1151 880,1158C897,1165 915,1163 930,1168C945,1173 958,1193 970,1188C982,1183 985,1155 1000,1138C1015,1121 1060,1088 1060,1088C1060,1088 1060,-30 1060,-30C1060,-30 302,-30 302,-30Z"/>
<ellipse fill="#23a85f" class="c" cx="790" cy="1168" rx="22" ry="35" transform="rotate(-15 790 1168)"/>
<ellipse fill="#1798c9" class="c" cx="790" cy="1170" rx="10" ry="18" transform="rotate(-15 790 1170)"/>
<path fill="#f07027" class="c" d="M290,150C302,133 363,98 380,100C397,102 397,142 390,160C383,178 353,203 340,210C327,217 318,210 310,200C302,190 278,167 290,150Z"/>
<path fill="#f07027" class="c" d="M410,-30C410,-30 405,37 420,55C435,73 479,69 500,78C521,87 537,95 545,110C553,125 552,152 548,170C544,188 521,205 522,220C523,235 549,243 556,260C563,277 566,303 562,320C558,337 542,347 532,360C522,373 511,383 505,400C499,417 500,440 495,460C490,480 483,506 475,520C467,534 457,543 445,545C433,547 417,531 405,530C393,529 381,533 375,540C369,547 362,563 370,570C378,577 408,573 420,580C432,587 439,598 440,610C441,622 428,637 425,650C422,663 412,677 420,688C428,699 458,705 470,718C482,731 485,748 490,768C495,788 495,818 500,838C505,858 512,876 520,888C528,900 535,906 545,908C555,910 564,896 580,898C596,900 622,908 640,918C658,928 677,945 690,958C703,971 712,983 720,998C728,1013 728,1043 735,1048C742,1053 752,1040 760,1028C768,1016 768,990 780,978C792,966 813,953 830,953C847,953 868,966 880,978C892,990 892,1018 900,1028C908,1038 922,1043 930,1038C938,1033 942,1003 950,998C958,993 967,1002 975,1008C983,1014 986,1028 1000,1033C1014,1038 1060,1038 1060,1038C1060,1038 1060,-30 1060,-30C1060,-30 410,-30 410,-30Z"/>
<path fill="#efd21f" class="c" d="M330,600C338,589 354,584 370,582C386,580 415,575 425,585C435,595 433,622 432,640C431,658 427,680 418,690C409,700 394,699 380,700C366,701 345,703 335,695C325,687 321,666 320,650C319,634 322,611 330,600Z"/>
<path fill="#e10a1e" class="c" d="M800,120C803,110 830,100 850,90C870,80 905,58 920,60C935,62 933,98 940,100C947,102 943,74 960,70C977,66 1040,78 1040,78C1040,78 1040,200 1040,200C1040,200 957,215 930,210C903,205 897,180 880,170C863,160 843,158 830,150C817,142 797,130 800,120Z"/>
<path fill="#e10a1e" class="c" d="M860,640C872,630 903,637 920,630C937,623 948,617 960,600C972,583 977,544 990,530C1003,516 1040,518 1040,518C1040,518 1040,768 1040,768C1040,768 1002,765 990,758C978,751 985,733 970,728C955,723 918,730 900,728C882,726 868,725 860,718C852,711 850,701 850,688C850,675 848,650 860,640Z"/>
<ellipse fill="#e10a1e" class="c" cx="765" cy="565" rx="13" ry="12"/>
<ellipse fill="#e10a1e" class="c" cx="640" cy="645" rx="11" ry="10"/>
<ellipse fill="#b01818" class="c" cx="620" cy="748" rx="8" ry="18" transform="rotate(15 620 748)"/>
<ellipse fill="#7fc233" class="c" cx="628" cy="318" rx="24" ry="24"/>
<ellipse fill="#23a85f" class="c" cx="628" cy="318" rx="14" ry="14"/>
<ellipse fill="#efd21f" class="c" cx="565" cy="425" rx="19" ry="19"/>
<ellipse fill="#7fc233" class="c" cx="565" cy="425" rx="9" ry="9"/>
<ellipse fill="#efd21f" class="c" cx="650" cy="15" rx="15" ry="15"/>
<path fill="none" stroke="#3a3a20" stroke-width="4" stroke-opacity=".55" d="M650,0C650,0 640,100 640,100C640,100 560,430 560,430C560,430 740,700 740,700C740,700 930,990 930,990C930,990 960,1090 960,1090C960,1090 900,1220 900,1220"/>
<path fill="none" stroke="#3a3a20" stroke-width="4" stroke-opacity=".55" d="M400,25 L1024,180"/>
<path fill="none" stroke="#3a3a20" stroke-width="4" stroke-opacity=".55" d="M940,0 L925,90"/>
<path fill="none" stroke="#3a3a20" stroke-width="4" stroke-opacity=".55" stroke-dasharray="10 9" d="M260,225C260,225 620,318 620,318C620,318 1024,420 1024,420"/>
<path fill="none" stroke="#3a3a20" stroke-width="4" stroke-opacity=".55" stroke-dasharray="10 9" d="M560,430 L470,820"/>
</svg>
<div class="ut" style="left:150.7px;top:362.3px">00 UT</div>
<svg class="map" style="left:349px;top:174px" width="130.5" height="176.7" viewBox="0 0 1024 1394" preserveAspectRatio="none">
<rect x="-20" y="-20" width="1064" height="1434" fill="#23a85f"/>
<path fill="#7fc233" class="c" d="M-10,-10C-10,-10 290,-10 290,-10C290,-10 274,70 265,100C256,130 240,147 238,170C236,193 249,212 250,240C251,268 241,309 244,340C247,371 251,406 268,425C285,444 331,444 345,455C359,466 354,478 350,490C346,502 328,515 320,530C312,545 304,560 300,580C296,600 295,627 295,650C295,673 351,708 300,720C249,732 -10,720 -10,720C-10,720 -10,-10 -10,-10Z"/>
<path fill="#efd21f" class="c" d="M120,-10C120,-10 252,-10 252,-10C252,-10 252,46 232,60C212,74 154,74 132,72C110,70 102,64 100,50C98,36 120,-10 120,-10Z"/>
<path fill="#efd21f" class="c" d="M-10,192C-10,192 40,177 60,180C80,183 95,193 110,210C125,227 135,257 150,280C165,303 185,328 200,350C215,372 225,395 240,410C255,425 275,433 290,440C305,447 322,443 330,450C338,457 343,468 340,480C337,492 318,507 310,520C302,533 294,543 290,560C286,577 285,598 285,620C285,642 284,672 292,693C300,714 317,726 330,743C343,760 358,776 370,793C382,810 398,826 400,843C402,860 385,876 385,893C385,910 391,931 400,943C409,955 423,951 440,963C457,975 480,1000 500,1013C520,1026 542,1030 560,1043C578,1056 597,1073 610,1093C623,1113 632,1136 640,1163C648,1190 650,1225 655,1253C660,1281 666,1305 670,1333C674,1361 682,1420 682,1420C682,1420 -10,1420 -10,1420C-10,1420 -10,192 -10,192Z"/>
<path fill="#1798c9" class="c" d="M290,-10C290,-10 522,-10 522,-10C522,-10 532,88 522,110C512,132 480,113 460,120C440,127 415,137 400,150C385,163 378,178 370,200C362,222 355,253 350,280C345,307 340,340 340,360C340,380 360,395 350,402C340,409 299,411 282,402C265,393 251,369 246,350C241,331 252,310 252,290C252,270 248,252 246,230C244,208 238,185 242,160C246,135 262,108 270,80C278,52 290,-10 290,-10Z"/>
<path fill="#1798c9" class="c" d="M465,200C475,192 512,185 522,195C532,205 518,244 522,260C526,276 537,278 545,290C553,302 561,312 570,330C579,348 590,382 600,400C610,418 621,423 630,440C639,457 650,483 652,500C654,517 649,537 642,542C635,547 619,526 612,532C605,538 600,562 602,580C604,598 615,620 622,640C629,660 640,681 645,700C650,719 653,732 652,753C651,774 647,808 640,823C633,838 617,848 610,843C603,838 603,810 600,793C597,776 592,758 590,743C588,728 590,717 585,700C580,683 568,650 560,640C552,630 540,630 535,640C530,650 536,686 530,700C524,714 515,719 500,723C485,727 457,718 440,723C423,728 412,743 400,753C388,763 380,783 370,783C360,783 350,763 340,753C330,743 317,732 310,723C303,714 297,714 300,700C303,686 313,652 330,640C347,628 383,643 400,630C417,617 430,575 430,560C430,545 412,550 400,540C388,530 357,515 360,500C363,485 405,470 420,450C435,430 442,405 450,380C458,355 468,323 470,300C472,277 461,257 460,240C459,223 455,208 465,200Z"/>
<path fill="#23a85f" class="c" d="M400,560C405,550 432,548 440,555C448,562 451,590 446,600C441,610 418,619 410,612C402,605 395,570 400,560Z"/>
<path fill="#1798c9" class="c" d="M400,843C409,830 425,815 440,813C455,811 478,821 490,833C502,845 498,872 510,883C522,894 547,892 560,898C573,904 588,910 590,918C592,926 582,942 570,948C558,954 537,956 520,955C503,954 485,944 470,943C455,942 442,951 430,949C418,947 402,942 395,933C388,924 384,908 385,893C386,878 391,856 400,843Z"/>
<path fill="#1798c9" class="c" d="M590,983C593,974 608,971 620,978C632,985 647,1012 660,1023C673,1034 689,1031 700,1043C711,1055 721,1071 725,1093C729,1115 722,1146 725,1173C728,1200 737,1225 740,1253C743,1281 745,1316 745,1343C745,1370 742,1413 742,1413C742,1413 680,1413 680,1413C680,1413 668,1343 665,1313C662,1283 664,1260 660,1233C656,1206 646,1176 640,1153C634,1130 632,1113 625,1093C618,1073 606,1051 600,1033C594,1015 587,992 590,983Z"/>
<ellipse fill="#1798c9" class="c" cx="548" cy="998" rx="15" ry="15"/>
<ellipse fill="#2f4692" class="c" cx="540" cy="440" rx="15" ry="32" transform="rotate(10 540 440)"/>
<ellipse fill="#2f4692" class="c" cx="370" cy="555" rx="20" ry="36" transform="rotate(20 370 555)"/>
<ellipse fill="#2f4692" class="c" cx="322" cy="580" rx="16" ry="14"/>
<ellipse fill="#2f4692" class="c" cx="560" cy="505" rx="9" ry="9"/>
<ellipse fill="#2f4692" class="c" cx="330" cy="210" rx="6" ry="16"/>
<ellipse fill="#2f4692" class="c" cx="310" cy="290" rx="6" ry="7"/>
<path fill="#2f4692" class="c" d="M318,720C306,709 318,670 332,655C346,640 385,629 400,630C415,631 422,645 422,660C422,675 419,710 402,720C385,730 330,731 318,720Z"/>
<path fill="#2f4692" class="c" d="M410,858C417,850 439,840 450,843C461,846 473,867 475,878C477,889 468,902 460,908C452,914 434,918 425,915C416,912 410,902 408,893C406,884 403,866 410,858Z"/>
<ellipse fill="#283a8c" class="c" cx="440" cy="878" rx="17" ry="17"/>
<ellipse fill="#2f4692" class="c" cx="650" cy="1103" rx="10" ry="18" transform="rotate(-25 650 1103)"/>
<ellipse fill="#2f4692" class="c" cx="690" cy="1268" rx="14" ry="14"/>
<path fill="#7fc233" class="c" d="M850,260C856,252 873,258 885,270C897,282 911,310 920,330C929,350 947,378 940,390C933,402 897,403 880,402C863,401 845,400 840,386C835,372 848,341 850,320C852,299 844,268 850,260Z"/>
<path fill="#7fc233" class="c" d="M830,470C833,462 862,452 880,450C898,448 913,460 940,460C967,460 1040,448 1040,448C1040,448 1040,800 1040,800C1040,800 958,778 940,793C922,808 933,860 935,893C937,926 956,960 950,993C944,1026 905,1066 900,1093C895,1120 908,1141 920,1153C932,1165 963,1156 970,1163C977,1170 988,1190 960,1195C932,1200 833,1199 800,1195C767,1191 769,1190 760,1173C751,1156 740,1108 745,1093C750,1078 784,1088 790,1083C796,1078 788,1068 780,1063C772,1058 745,1058 740,1053C735,1048 728,1040 750,1033C772,1026 848,1022 870,1013C892,1004 888,990 885,978C882,966 864,956 850,943C836,930 815,916 800,903C785,890 772,881 760,863C748,845 740,811 730,793C720,775 704,768 700,753C696,738 698,719 705,700C712,681 728,662 740,640C752,618 763,587 780,570C797,553 827,552 840,540C853,528 862,512 860,500C858,488 827,478 830,470Z"/>
<path fill="#efd21f" class="c" d="M940,700C949,690 963,670 980,662C997,654 1040,652 1040,652C1040,652 1040,1420 1040,1420C1040,1420 745,1420 745,1420C745,1420 736,1232 745,1195C754,1158 774,1198 800,1198C826,1198 882,1194 900,1193C918,1192 900,1193 910,1193C920,1193 949,1198 960,1193C971,1188 982,1170 975,1163C968,1156 932,1161 920,1153C908,1145 902,1126 900,1113C898,1100 902,1093 910,1073C918,1053 945,1023 950,993C955,963 941,926 940,893C939,860 948,822 945,793C942,764 926,736 925,720C924,704 931,710 940,700Z"/>
<path fill="#7fc233" class="c" d="M920,1283C926,1271 947,1261 960,1263C973,1265 993,1268 1000,1293C1007,1318 1002,1413 1002,1413C1002,1413 935,1413 935,1413C935,1413 928,1355 925,1333C922,1311 914,1295 920,1283Z"/>
<ellipse fill="#7fc233" class="c" cx="945" cy="1178" rx="28" ry="28"/>
<path fill="#efd21f" class="c" d="M680,858C684,858 692,877 700,878C708,879 721,862 725,863C729,864 726,878 722,883C718,888 705,894 698,893C691,892 681,884 678,878C675,872 676,858 680,858Z"/>
<ellipse fill="#23a85f" class="c" cx="880" cy="838" rx="14" ry="14"/>
<ellipse fill="#f07027" class="c" cx="215" cy="655" rx="28" ry="18" transform="rotate(-10 215 655)"/>
<ellipse fill="#f07027" class="c" cx="355" cy="828" rx="22" ry="22"/>
<path fill="#f07027" class="c" d="M330,893C334,893 338,926 345,943C352,960 361,981 370,993C379,1005 387,1010 400,1013C413,1016 430,1010 450,1013C470,1016 500,1026 520,1033C540,1040 555,1040 570,1053C585,1066 599,1093 610,1113C621,1133 630,1150 635,1173C640,1196 642,1226 640,1253C638,1280 627,1306 620,1333C613,1360 600,1413 600,1413C600,1413 470,1413 470,1413C470,1413 450,1355 430,1333C410,1311 361,1303 350,1283C339,1263 365,1236 365,1213C365,1190 349,1166 350,1143C351,1120 372,1095 370,1073C368,1051 352,1032 340,1013C328,994 298,970 295,958C292,946 314,954 320,943C326,932 326,893 330,893Z"/>
<path fill="#f07027" class="c" d="M18,1413C18,1413 33,1319 40,1293C47,1267 50,1258 60,1258C70,1258 88,1277 100,1293C112,1309 121,1333 130,1353C139,1373 152,1413 152,1413C152,1413 18,1413 18,1413Z"/>
<path fill="#e10a1e" class="c" d="M430,958C433,952 450,947 460,953C470,959 482,978 490,993C498,1008 509,1032 510,1043C511,1054 502,1062 495,1059C488,1056 479,1035 470,1023C461,1011 447,999 440,988C433,977 427,964 430,958Z"/>
<path fill="#f07027" class="c" d="M770,1293C777,1276 788,1255 800,1243C812,1231 825,1222 840,1223C855,1224 881,1233 890,1248C899,1263 896,1286 896,1313C896,1340 890,1413 890,1413C890,1413 780,1413 780,1413C780,1413 762,1363 760,1343C758,1323 763,1310 770,1293Z"/>
<ellipse fill="#e10a1e" class="c" cx="845" cy="1353" rx="22" ry="36"/>
<path fill="#f07027" class="c" d="M990,793C992,776 1002,761 1010,753C1018,745 1040,745 1040,745C1040,745 1040,865 1040,865C1040,865 1003,865 995,853C987,841 988,810 990,793Z"/>
<path fill="#f07027" class="c" d="M970,1073C972,1060 988,1049 1000,1043C1012,1037 1040,1035 1040,1035C1040,1035 1040,1145 1040,1145C1040,1145 1002,1135 990,1123C978,1111 968,1086 970,1073Z"/>
<ellipse fill="#c05018" class="c" cx="440" cy="1103" rx="12" ry="7" transform="rotate(20 440 1103)"/>
<ellipse fill="#c05018" class="c" cx="548" cy="1113" rx="9" ry="18" transform="rotate(-20 548 1113)"/>
<ellipse fill="#c05018" class="c" cx="530" cy="1168" rx="7" ry="16" transform="rotate(-15 530 1168)"/>
<path fill="none" stroke="#3a3a20" stroke-width="4" stroke-opacity=".55" d="M655,0C655,0 600,380 600,380C600,380 940,870 940,870C940,870 965,1000 965,1000C965,1000 905,1180 905,1180C905,1180 925,1260 925,1260"/>
<path fill="none" stroke="#3a3a20" stroke-width="4" stroke-opacity=".55" d="M400,25 L1024,180"/>
<path fill="none" stroke="#3a3a20" stroke-width="4" stroke-opacity=".55" d="M940,0 L910,150"/>
<path fill="none" stroke="#3a3a20" stroke-width="4" stroke-opacity=".55" d="M600,320 L1024,420"/>
<path fill="none" stroke="#3a3a20" stroke-width="4" stroke-opacity=".55" d="M660,1245 L1024,1275"/>
</svg>
<div class="ut" style="left:359px;top:182.2px">06 UT</div>
<svg class="map" style="left:482px;top:174px" width="130.7" height="176.7" viewBox="0 0 1024 1394" preserveAspectRatio="none">
<rect x="-20" y="-20" width="1064" height="1434" fill="#23a85f"/>
<path fill="#7fc233" class="c" d="M-10,-10C-10,-10 282,-10 282,-10C282,-10 270,68 262,100C254,132 238,150 232,180C226,210 225,247 227,280C229,313 233,355 242,380C251,405 272,410 282,430C292,450 301,478 302,500C303,522 290,523 288,560C286,597 342,693 292,720C242,747 -10,720 -10,720C-10,720 -10,-10 -10,-10Z"/>
<path fill="#7fc233" class="c" d="M850,678C868,665 932,673 945,678C958,683 933,696 925,708C917,720 902,731 895,748C888,765 877,790 880,808C883,826 906,836 915,853C924,870 935,896 935,913C935,930 922,935 915,953C908,971 906,1000 895,1023C884,1046 869,1076 850,1088C831,1100 798,1090 780,1093C762,1096 751,1112 745,1108C739,1104 741,1081 745,1068C749,1055 758,1038 770,1028C782,1018 802,1013 820,1008C838,1003 867,1008 880,998C893,988 900,968 900,948C900,928 888,900 880,878C872,856 857,838 850,818C843,798 840,781 840,758C840,735 832,691 850,678Z"/>
<path fill="#7fc233" class="c" d="M880,620C890,598 912,580 930,570C948,560 972,555 990,560C1008,565 1040,600 1040,600C1040,600 1040,700 1040,700C1040,700 897,713 870,700C843,687 870,642 880,620Z"/>
<path fill="#1798c9" class="c" d="M285,-10C285,-10 480,-10 480,-10C480,-10 527,93 520,115C513,137 463,114 440,120C417,126 395,137 380,150C365,163 357,180 350,200C343,220 343,248 340,270C337,292 335,311 330,330C325,349 320,375 310,385C300,395 282,396 270,392C258,388 246,379 240,360C234,341 235,308 235,280C235,252 236,220 240,190C244,160 254,133 262,100C270,67 285,-10 285,-10Z"/>
<path fill="#1798c9" class="c" d="M480,-10C480,-10 830,-10 830,-10C830,-10 828,29 820,40C812,51 793,57 780,55C767,53 752,31 740,30C728,29 717,41 710,50C703,59 710,77 700,85C690,93 663,98 650,100C637,102 627,87 620,95C613,103 613,132 610,150C607,168 603,178 600,200C597,222 593,255 590,280C587,305 574,342 582,350C590,358 625,332 640,330C655,328 667,332 670,340C673,348 668,370 660,380C652,390 630,388 620,400C610,412 600,433 600,450C600,467 610,487 620,500C630,513 647,515 660,530C673,545 690,575 700,590C710,605 722,610 722,620C722,630 710,649 700,652C690,655 669,632 660,640C651,648 647,682 645,700C643,718 651,727 650,748C649,769 647,805 640,828C633,851 617,870 610,888C603,906 593,928 600,938C607,948 635,941 650,948C665,955 680,965 690,978C700,991 706,1006 710,1028C714,1050 713,1081 715,1108C717,1135 722,1165 720,1188C718,1211 705,1231 700,1248C695,1265 696,1281 690,1288C684,1295 672,1298 665,1288C658,1278 656,1251 650,1228C644,1205 638,1171 630,1148C622,1125 612,1106 600,1088C588,1070 577,1055 560,1038C543,1021 518,1001 500,988C482,975 465,966 450,958C435,950 421,946 410,938C399,930 388,925 385,908C382,891 395,858 390,838C385,818 367,805 355,788C343,771 331,755 320,738C309,721 295,711 290,688C285,665 288,628 290,600C292,572 282,535 300,520C318,505 382,522 400,510C418,498 410,472 410,450C410,428 401,405 400,380C399,355 398,327 405,300C412,273 429,243 440,220C451,197 460,177 470,160C480,143 498,148 500,120C502,92 480,-10 480,-10Z"/>
<path fill="#23a85f" class="c" d="M560,110C564,102 592,100 600,105C608,110 610,132 606,140C602,148 583,157 575,152C567,147 556,118 560,110Z"/>
<path fill="#23a85f" class="c" d="M515,545C519,536 539,534 545,540C551,546 556,571 552,580C548,589 526,598 520,592C514,586 511,554 515,545Z"/>
<ellipse fill="#23a85f" class="c" cx="442" cy="743" rx="13" ry="26" transform="rotate(15 442 743)"/>
<path fill="#1798c9" class="c" d="M740,420C751,409 777,412 800,405C823,398 858,381 880,380C902,379 922,385 930,400C938,415 933,448 926,470C919,492 904,515 890,530C876,545 862,555 840,560C818,565 782,567 760,562C738,557 720,542 710,530C700,518 696,500 700,490C704,480 728,482 735,470C742,458 729,431 740,420Z"/>
<path fill="#1798c9" class="c" d="M915,-10C915,-10 1040,-10 1040,-10C1040,-10 1040,292 1040,292C1040,292 993,285 980,270C967,255 967,220 960,200C953,180 948,165 940,150C932,135 914,137 910,110C906,83 915,-10 915,-10Z"/>
<path fill="#1798c9" class="c" d="M990,320C998,310 1040,308 1040,308C1040,308 1040,382 1040,382C1040,382 1003,380 995,370C987,360 982,330 990,320Z"/>
<path fill="#2f4692" class="c" d="M455,470C460,460 465,465 470,480C475,495 481,533 485,560C489,587 498,624 496,640C494,656 478,659 470,656C462,653 455,639 450,620C445,601 439,565 440,540C441,515 450,480 455,470Z"/>
<path fill="#2f4692" class="c" d="M330,560C337,548 351,525 360,520C369,515 382,520 385,530C388,540 378,565 380,580C382,595 393,610 400,620C407,630 418,627 420,640C422,653 414,687 412,700C410,713 412,713 410,718C408,723 407,727 400,730C393,733 380,739 370,738C360,737 352,729 340,723C328,717 300,712 300,700C300,688 332,665 340,650C348,635 353,620 350,610C347,600 323,598 320,590C317,582 323,572 330,560Z"/>
<ellipse fill="#2f4692" class="c" cx="280" cy="240" rx="18" ry="18"/>
<ellipse fill="#2f4692" class="c" cx="280" cy="345" rx="16" ry="15"/>
<ellipse fill="#2f4692" class="c" cx="312" cy="180" rx="18" ry="16"/>
<path fill="#2f4692" class="c" d="M420,813C423,805 442,800 450,808C458,816 462,843 470,858C478,873 488,890 500,898C512,906 528,910 540,908C552,906 562,896 570,888C578,880 580,864 585,863C590,862 602,874 602,883C602,892 595,911 585,920C575,929 556,937 540,938C524,939 505,935 490,928C475,921 460,910 450,898C440,886 435,872 430,858C425,844 417,821 420,813Z"/>
<ellipse fill="#2f4692" class="c" cx="655" cy="1093" rx="8" ry="9"/>
<path fill="#efd21f" class="c" d="M-10,330C-10,330 27,322 40,300C53,278 58,222 70,200C82,178 98,172 110,170C122,168 131,172 140,190C149,208 156,248 165,280C174,312 185,350 195,380C205,410 216,437 225,460C234,483 242,497 250,520C258,543 265,572 270,600C275,628 273,665 280,688C287,711 298,721 310,738C322,755 338,771 350,788C362,805 376,818 380,838C384,858 372,891 375,908C378,925 388,930 400,938C412,946 433,950 450,958C467,966 482,975 500,988C518,1001 543,1021 560,1038C577,1055 588,1070 600,1088C612,1106 622,1125 630,1148C638,1171 645,1205 650,1228C655,1251 655,1274 660,1288C665,1302 673,1312 680,1310C687,1308 693,1292 700,1278C707,1264 713,1246 720,1228C727,1210 736,1188 740,1168C744,1148 738,1120 745,1108C752,1096 762,1096 780,1093C798,1090 831,1100 850,1088C869,1076 884,1046 895,1023C906,1000 908,971 915,953C922,935 935,930 935,913C935,896 924,870 915,853C906,836 881,826 878,808C875,790 887,765 895,748C903,731 914,718 925,708C936,698 951,694 960,688C969,682 967,674 980,670C993,666 1040,665 1040,665C1040,665 1040,1420 1040,1420C1040,1420 -10,1420 -10,1420C-10,1420 -10,330 -10,330Z"/>
<path fill="#efd21f" class="c" d="M275,430C278,422 298,414 310,415C322,416 342,427 350,435C358,443 361,457 356,465C351,473 331,482 320,482C309,482 298,474 290,465C282,456 272,438 275,430Z"/>
<ellipse fill="#efd21f" class="c" cx="155" cy="65" rx="16" ry="36"/>
<ellipse fill="#7fc233" class="c" cx="678" cy="846" rx="12" ry="21"/>
<ellipse fill="#7fc233" class="c" cx="768" cy="793" rx="8" ry="25" transform="rotate(-10 768 793)"/>
<path fill="#f07027" class="c" d="M400,953C402,942 418,939 430,943C442,947 455,964 470,978C485,992 505,1015 520,1028C535,1041 547,1045 560,1058C573,1071 589,1090 600,1108C611,1126 622,1148 625,1168C628,1188 626,1208 620,1228C614,1248 597,1268 590,1288C583,1308 583,1328 580,1348C577,1368 572,1408 572,1408C572,1408 530,1408 530,1408C530,1408 530,1341 535,1318C540,1295 554,1285 560,1268C566,1251 575,1231 570,1218C565,1205 538,1203 530,1188C522,1173 525,1145 520,1128C515,1111 510,1101 500,1088C490,1075 473,1061 460,1048C447,1035 430,1024 420,1008C410,992 398,964 400,953Z"/>
<path fill="#e10a1e" class="c" d="M405,950C408,944 425,938 435,943C445,948 463,970 465,978C467,986 453,994 445,994C437,994 422,985 415,978C408,971 402,956 405,950Z"/>
<path fill="#f07027" class="c" d="M33,1408C33,1408 39,1346 45,1328C51,1310 61,1300 70,1300C79,1300 92,1310 100,1328C108,1346 117,1408 117,1408C117,1408 33,1408 33,1408Z"/>
<ellipse fill="#f07027" class="c" cx="340" cy="1050" rx="20" ry="16" transform="rotate(20 340 1050)"/>
<path fill="#f07027" class="c" d="M760,1128C769,1122 785,1125 800,1133C815,1141 837,1162 850,1178C863,1194 873,1214 880,1228C887,1242 893,1253 890,1263C887,1273 867,1276 860,1288C853,1300 853,1318 850,1338C847,1358 840,1408 840,1408C840,1408 700,1408 700,1408C700,1408 693,1338 700,1318C707,1298 732,1303 740,1288C748,1273 749,1248 750,1228C751,1208 743,1185 745,1168C747,1151 751,1134 760,1128Z"/>
<path fill="#e10a1e" class="c" d="M785,1213C789,1202 808,1200 820,1208C832,1216 859,1247 860,1263C861,1279 836,1302 825,1304C814,1306 802,1288 795,1273C788,1258 781,1224 785,1213Z"/>
<path fill="#f07027" class="c" d="M960,808C964,793 977,768 990,758C1003,748 1040,746 1040,746C1040,746 1040,888 1040,888C1040,888 1002,875 990,868C978,861 970,858 965,848C960,838 956,823 960,808Z"/>
<path fill="#f07027" class="c" d="M895,1118C895,1109 911,1090 920,1078C929,1066 938,1050 950,1048C962,1046 975,1066 990,1068C1005,1070 1040,1063 1040,1063C1040,1063 1040,1208 1040,1208C1040,1208 1003,1173 990,1158C977,1143 972,1122 960,1118C948,1114 931,1134 920,1134C909,1134 895,1127 895,1118Z"/>
<path fill="#7fc233" class="c" d="M905,1188C908,1175 930,1166 940,1168C950,1170 963,1185 965,1198C967,1211 944,1236 950,1248C956,1260 985,1263 1000,1268C1015,1273 1040,1278 1040,1278C1040,1278 1040,1408 1040,1408C1040,1408 870,1408 870,1408C870,1408 865,1348 870,1328C875,1308 892,1301 900,1288C908,1275 919,1265 920,1248C921,1231 902,1201 905,1188Z"/>
<path fill="#23a85f" class="c" d="M880,1408C880,1408 880,1348 890,1328C900,1308 923,1293 940,1288C957,1283 979,1290 990,1298C1001,1306 1004,1320 1005,1338C1006,1356 995,1408 995,1408C995,1408 880,1408 880,1408Z"/>
<ellipse fill="#23a85f" class="c" cx="680" cy="1353" rx="15" ry="18"/>
<ellipse fill="#7fc233" class="c" cx="535" cy="1113" rx="16" ry="14"/>
<ellipse fill="#7fc233" class="c" cx="528" cy="1156" rx="10" ry="12"/>
<path fill="none" stroke="#3a3a20" stroke-width="4" stroke-opacity=".55" d="M660,0C660,0 640,95 640,95C640,95 560,420 560,420C560,420 940,980 940,980C940,980 960,1040 960,1040C960,1040 950,1100 950,1100"/>
<path fill="none" stroke="#3a3a20" stroke-width="4" stroke-opacity=".55" d="M330,0 L1024,175"/>
<path fill="none" stroke="#3a3a20" stroke-width="4" stroke-opacity=".55" d="M915,0 L905,150"/>
<path fill="none" stroke="#3a3a20" stroke-width="4" stroke-opacity=".55" d="M400,270 L1024,400"/>
<path fill="none" stroke="#3a3a20" stroke-width="4" stroke-opacity=".55" d="M660,1243 L1024,1258"/>
<path fill="none" stroke="#3a3a20" stroke-width="4" stroke-opacity=".55" stroke-dasharray="10 9" d="M400,1018 L310,1388"/>
</svg>
<div class="ut" style="left:492px;top:181.4px">12 UT</div>
<svg class="map" style="left:349px;top:355px" width="130.5" height="176.5" viewBox="0 0 1024 1394" preserveAspectRatio="none">
<rect x="-20" y="-20" width="1064" height="1434" fill="#23a85f"/>
<path fill="#7fc233" class="c" d="M-10,-10C-10,-10 95,-10 95,-10C95,-10 102,53 85,65C68,77 -10,60 -10,60C-10,60 -10,-10 -10,-10Z"/>
<path fill="#7fc233" class="c" d="M185,200C195,182 220,162 230,170C240,178 244,223 245,250C246,277 234,307 235,330C236,353 239,375 250,390C261,405 285,407 300,420C315,433 335,457 340,470C345,483 337,492 330,500C323,508 307,510 300,520C293,530 290,543 290,560C290,577 295,607 300,620C305,633 320,627 320,640C320,653 308,690 300,700C292,710 275,733 270,700C265,667 277,543 270,500C263,457 243,460 230,440C217,420 200,407 190,380C180,353 171,310 170,280C169,250 175,218 185,200Z"/>
<path fill="#7fc233" class="c" d="M580,490C587,469 608,467 620,475C632,483 640,516 650,540C660,564 668,593 680,620C692,647 737,687 722,700C707,713 614,717 590,700C566,683 582,635 580,600C578,565 573,511 580,490Z"/>
<path fill="#7fc233" class="c" d="M820,550C828,530 858,517 880,500C902,483 923,468 950,450C977,432 1040,395 1040,395C1040,395 1040,1040 1040,1040C1040,1040 997,1034 990,1043C983,1052 1000,1080 1000,1093C1000,1106 1000,1116 990,1123C980,1130 950,1136 940,1133C930,1130 937,1115 930,1103C923,1091 908,1076 900,1063C892,1050 890,1031 880,1023C870,1015 853,1013 840,1013C827,1013 803,1015 800,1023C797,1031 822,1052 820,1063C818,1074 803,1083 790,1088C777,1093 749,1086 740,1093C731,1100 738,1116 735,1133C732,1150 726,1173 720,1193C714,1213 705,1237 700,1253C695,1269 692,1297 690,1290C688,1283 687,1239 690,1213C693,1187 703,1156 708,1133C713,1110 719,1091 718,1073C717,1055 711,1038 700,1023C689,1008 665,996 650,983C635,970 612,958 610,943C608,928 632,915 638,893C644,871 648,838 648,813C648,788 645,765 640,743C635,721 595,691 620,683C645,675 755,704 790,693C825,682 825,644 830,620C835,596 812,570 820,550Z"/>
<path fill="#1798c9" class="c" d="M240,170C243,153 260,145 270,150C280,155 294,175 300,200C306,225 308,273 306,300C304,327 298,348 290,360C282,372 263,377 255,372C247,367 241,350 240,330C239,310 250,277 250,250C250,223 237,187 240,170Z"/>
<path fill="#1798c9" class="c" d="M350,-10C350,-10 470,-10 470,-10C470,-10 455,24 440,30C425,36 395,33 380,26C365,19 350,-10 350,-10Z"/>
<path fill="#1798c9" class="c" d="M310,540C318,527 338,520 350,520C362,520 378,528 385,540C392,552 384,577 390,590C396,603 413,608 420,620C427,632 433,647 430,660C427,673 408,690 400,700C392,710 390,715 380,718C370,721 353,721 340,718C327,715 302,713 300,700C298,687 329,657 330,640C331,623 308,617 305,600C302,583 302,553 310,540Z"/>
<path fill="#2f4692" class="c" d="M345,620C355,604 371,602 380,605C389,608 399,624 400,640C401,656 398,690 385,700C372,710 327,713 320,700C313,687 335,636 345,620Z"/>
<path fill="#1798c9" class="c" d="M465,485C471,477 481,478 485,490C489,502 486,538 490,560C494,582 501,597 510,620C519,643 549,687 542,700C535,713 484,713 470,700C456,687 458,647 455,620C452,593 448,562 450,540C452,518 459,493 465,485Z"/>
<path fill="#1798c9" class="c" d="M500,683C512,671 572,673 590,683C608,693 608,725 610,743C612,761 600,775 600,793C600,811 612,835 610,853C608,871 598,892 590,903C582,914 569,921 560,919C551,917 540,906 535,893C530,880 528,858 530,843C532,828 547,818 545,803C543,788 528,773 520,753C512,733 488,695 500,683Z"/>
<ellipse fill="#23a85f" class="c" cx="575" cy="798" rx="14" ry="16"/>
<ellipse fill="#23a85f" class="c" cx="660" cy="743" rx="12" ry="20"/>
<ellipse fill="#23a85f" class="c" cx="770" cy="728" rx="12" ry="12"/>
<path fill="#efd21f" class="c" d="M-10,60C-10,60 67,72 85,60C103,48 100,-10 100,-10C100,-10 270,-10 270,-10C270,-10 265,32 260,50C255,68 250,83 240,100C230,117 209,133 200,150C191,167 188,178 185,200C182,222 178,250 180,280C182,310 190,353 200,380C210,407 227,420 240,440C253,460 272,480 280,500C288,520 285,540 285,560C285,580 280,598 280,620C280,642 280,674 285,693C290,712 299,718 310,733C321,748 338,765 350,783C362,801 376,823 380,843C384,863 372,888 375,903C378,918 388,923 400,933C412,943 433,951 450,963C467,975 482,988 500,1003C518,1018 542,1035 560,1053C578,1071 597,1093 610,1113C623,1133 632,1153 640,1173C648,1193 652,1215 655,1233C658,1251 656,1273 660,1283C664,1293 673,1298 680,1293C687,1288 693,1270 700,1253C707,1236 714,1213 720,1193C726,1173 732,1150 735,1133C738,1116 731,1100 740,1093C749,1086 777,1093 790,1088C803,1083 818,1074 820,1063C822,1052 797,1031 800,1023C803,1015 827,1013 840,1013C853,1013 870,1015 880,1023C890,1031 892,1050 900,1063C908,1076 923,1091 930,1103C937,1115 930,1130 940,1133C950,1136 980,1130 990,1123C1000,1116 1000,1106 1000,1093C1000,1080 983,1054 990,1043C997,1032 1040,1030 1040,1030C1040,1030 1040,1420 1040,1420C1040,1420 -10,1420 -10,1420C-10,1420 -10,60 -10,60Z"/>
<path fill="#efd21f" class="c" d="M985,823C988,806 991,803 1000,798C1009,793 1040,791 1040,791C1040,791 1040,893 1040,893C1040,893 989,915 980,903C971,891 982,840 985,823Z"/>
<path fill="#f07027" class="c" d="M400,948C404,940 427,936 440,943C453,950 468,976 480,993C492,1010 504,1030 510,1043C516,1056 521,1066 516,1073C511,1080 494,1086 480,1085C466,1084 442,1078 430,1069C418,1060 408,1046 405,1033C402,1020 416,1007 415,993C414,979 396,956 400,948Z"/>
<ellipse fill="#e10a1e" class="c" cx="418" cy="961" rx="16" ry="14"/>
<path fill="#f07027" class="c" d="M285,1058C290,1050 306,1041 320,1043C334,1045 357,1060 370,1068C383,1076 396,1085 400,1093C404,1101 402,1115 395,1118C388,1121 367,1110 360,1113C353,1116 348,1128 355,1138C362,1148 386,1166 400,1173C414,1180 427,1185 440,1183C453,1181 468,1165 480,1163C492,1161 502,1168 510,1173C518,1178 522,1200 530,1193C538,1186 552,1145 560,1133C568,1121 573,1120 580,1123C587,1126 597,1143 600,1153C603,1163 605,1174 600,1183C595,1192 581,1201 570,1208C559,1215 547,1222 535,1223C523,1224 508,1210 500,1213C492,1216 492,1238 485,1243C478,1248 468,1250 460,1245C452,1240 450,1222 440,1213C430,1204 415,1201 400,1193C385,1185 365,1175 350,1163C335,1151 320,1136 310,1123C300,1110 294,1099 290,1088C286,1077 280,1066 285,1058Z"/>
<ellipse fill="#f07027" class="c" cx="350" cy="1003" rx="10" ry="18" transform="rotate(-15 350 1003)"/>
<path fill="#f07027" class="c" d="M18,1413C18,1413 26,1300 30,1253C34,1206 36,1166 40,1133C44,1100 49,1063 55,1053C61,1043 70,1058 75,1073C80,1088 84,1120 85,1143C86,1166 79,1191 80,1213C81,1235 82,1253 90,1273C98,1293 121,1310 130,1333C139,1356 142,1413 142,1413C142,1413 18,1413 18,1413Z"/>
<path fill="#f07027" class="c" d="M755,1183C760,1172 776,1168 790,1178C804,1188 827,1226 840,1243C853,1260 864,1266 870,1283C876,1300 872,1321 875,1343C878,1365 887,1413 887,1413C887,1413 820,1413 820,1413C820,1413 823,1338 820,1313C817,1288 810,1275 800,1263C790,1251 768,1256 760,1243C752,1230 750,1194 755,1183Z"/>
<path fill="#f07027" class="c" d="M698,1413C698,1413 701,1370 710,1363C719,1356 741,1365 750,1373C759,1381 762,1413 762,1413C762,1413 698,1413 698,1413Z"/>
<ellipse fill="#f07027" class="c" cx="712" cy="1320" rx="10" ry="16" transform="rotate(-30 712 1320)"/>
<ellipse fill="#7fc233" class="c" cx="1005" cy="1253" rx="20" ry="15"/>
<ellipse fill="#23a85f" class="c" cx="975" cy="1375" rx="22" ry="22"/>
<ellipse fill="#23a85f" class="c" cx="685" cy="1353" rx="16" ry="16"/>
<ellipse fill="#f07027" class="c" cx="568" cy="428" rx="12" ry="14"/>
<ellipse fill="#7fc233" class="c" cx="710" cy="240" rx="32" ry="8" transform="rotate(-8 710 240)"/>
<path fill="none" stroke="#3a3a20" stroke-width="4" stroke-opacity=".55" d="M660,95C660,95 565,430 565,430C565,430 745,700 745,700C745,700 940,1000 940,1000C940,1000 975,1090 975,1090C975,1090 905,1220 905,1220"/>
<path fill="none" stroke="#3a3a20" stroke-width="4" stroke-opacity=".55" d="M400,25 L1024,180"/>
<path fill="none" stroke="#3a3a20" stroke-width="4" stroke-opacity=".55" d="M940,0 L910,150"/>
<path fill="none" stroke="#3a3a20" stroke-width="4" stroke-opacity=".55" d="M300,245 L1024,400"/>
<path fill="none" stroke="#3a3a20" stroke-width="4" stroke-opacity=".55" d="M660,1245 L1024,1270"/>
<path fill="none" stroke="#3a3a20" stroke-width="4" stroke-opacity=".55" stroke-dasharray="10 9" d="M565,440 L460,870"/>
<path fill="none" stroke="#3a3a20" stroke-width="4" stroke-opacity=".55" stroke-dasharray="10 9" d="M370,1200 L320,1394"/>
</svg>
<div class="ut" style="left:359px;top:363.2px">18 UT</div>
<svg class="map" style="left:482px;top:355px" width="130.7" height="176.5" viewBox="0 0 1024 1394" preserveAspectRatio="none">
<rect x="-20" y="-20" width="1064" height="1434" fill="#7fc233"/>
<path fill="#23a85f" class="c" d="M285,-10C285,-10 665,-10 665,-10C665,-10 662,60 655,85C648,110 634,121 625,140C616,159 606,173 600,200C594,227 590,263 590,300C590,337 597,383 600,420C603,457 606,490 610,520C614,550 620,572 625,600C630,628 635,663 640,688C645,713 653,726 655,748C657,770 656,795 650,818C644,841 630,868 620,888C610,908 597,923 590,938C583,953 575,970 580,978C585,986 607,981 620,988C633,995 655,1009 660,1018C665,1027 660,1038 650,1040C640,1042 613,1037 600,1028C587,1019 583,996 570,988C557,980 538,985 520,978C502,971 480,956 460,948C440,940 413,938 400,928C387,918 388,911 380,888C372,865 360,815 350,790C340,765 330,757 320,740C310,723 293,711 290,688C287,665 300,625 300,600C300,575 290,557 290,540C290,523 303,512 300,500C297,488 274,480 270,470C266,460 280,452 275,440C270,428 248,418 240,400C232,382 225,353 225,330C225,307 235,282 240,260C245,238 255,218 255,200C255,182 239,170 240,150C241,130 254,107 262,80C270,53 285,-10 285,-10Z"/>
<path fill="#7fc233" class="c" d="M540,90C542,82 547,80 560,80C573,80 608,85 620,90C632,95 633,98 630,110C627,122 610,153 600,160C590,167 579,155 570,150C561,145 550,140 545,130C540,120 538,98 540,90Z"/>
<path fill="#7fc233" class="c" d="M570,210C575,197 596,187 600,200C604,213 597,277 592,290C587,303 574,293 570,280C566,267 565,223 570,210Z"/>
<path fill="#7fc233" class="c" d="M385,200C394,185 420,165 430,170C440,175 443,208 445,230C447,252 438,277 440,300C442,323 451,350 455,370C459,390 468,405 465,420C462,435 454,450 440,460C426,470 398,478 380,480C362,482 345,473 330,470C315,467 295,465 290,460C285,455 290,445 300,440C310,435 340,438 350,430C360,422 359,407 360,390C361,373 352,352 355,330C358,308 370,282 375,260C380,238 376,215 385,200Z"/>
<path fill="#23a85f" class="c" d="M275,465C282,458 317,448 330,445C343,442 353,441 355,445C357,449 351,463 340,470C329,477 301,487 290,486C279,485 268,472 275,465Z"/>
<path fill="#7fc233" class="c" d="M350,763C352,747 375,740 390,733C405,726 425,722 440,723C455,724 468,727 480,738C492,749 502,771 510,788C518,805 525,821 530,838C535,855 545,879 540,888C535,897 512,897 500,894C488,891 480,881 470,868C460,855 452,827 440,818C428,809 411,811 400,813C389,815 383,836 375,828C367,820 348,779 350,763Z"/>
<path fill="#1798c9" class="c" d="M250,180C255,168 275,170 290,170C305,170 330,170 340,180C350,190 350,210 350,230C350,250 343,280 340,300C337,320 340,338 330,350C320,362 294,370 280,370C266,370 252,362 245,350C238,338 238,318 240,300C242,282 258,260 260,240C262,220 245,192 250,180Z"/>
<path fill="#1798c9" class="c" d="M305,540C312,529 337,520 350,520C363,520 380,530 385,540C390,550 388,571 380,580C372,589 352,591 340,592C328,593 316,594 310,585C304,576 298,551 305,540Z"/>
<path fill="#1798c9" class="c" d="M318,700C320,689 328,653 340,640C352,627 378,620 390,620C402,620 413,627 415,640C417,653 406,689 400,700C394,711 392,707 380,708C368,709 340,706 330,705C320,704 316,711 318,700Z"/>
<path fill="#1798c9" class="c" d="M380,878C387,872 408,867 420,868C432,869 446,875 450,883C454,891 453,907 445,914C437,921 411,926 400,924C389,922 383,911 380,903C377,895 373,884 380,878Z"/>
<ellipse fill="#1798c9" class="c" cx="617" cy="745" rx="8" ry="18"/>
<path fill="#23a85f" class="c" d="M580,978C582,970 606,976 620,983C634,990 659,1008 665,1018C671,1028 664,1038 655,1041C646,1044 622,1044 610,1033C598,1022 578,986 580,978Z"/>
<ellipse fill="#23a85f" class="c" cx="710" cy="1048" rx="22" ry="28" transform="rotate(-15 710 1048)"/>
<ellipse fill="#23a85f" class="c" cx="645" cy="1103" rx="19" ry="30"/>
<path fill="#23a85f" class="c" d="M690,1128C699,1118 708,1100 715,1098C722,1096 733,1103 735,1118C737,1133 731,1166 725,1188C719,1210 708,1231 700,1248C692,1265 688,1283 680,1288C672,1293 660,1291 655,1278C650,1265 649,1228 650,1208C651,1188 653,1171 660,1158C667,1145 681,1138 690,1128Z"/>
<ellipse fill="#1798c9" class="c" cx="690" cy="1348" rx="18" ry="18"/>
<ellipse fill="#1798c9" class="c" cx="670" cy="1263" rx="14" ry="18"/>
<ellipse fill="#23a85f" class="c" cx="790" cy="40" rx="18" ry="18"/>
<ellipse fill="#7fc233" class="c" cx="790" cy="40" rx="8" ry="8"/>
<ellipse fill="#23a85f" class="c" cx="675" cy="115" rx="16" ry="13"/>
<ellipse fill="#23a85f" class="c" cx="628" cy="320" rx="20" ry="18"/>
<ellipse fill="#23a85f" class="c" cx="565" cy="422" rx="14" ry="17"/>
<path fill="#23a85f" class="c" d="M930,40C924,24 938,18 950,30C962,42 999,94 1005,110C1011,126 998,137 985,125C972,113 936,56 930,40Z"/>
<path fill="#efd21f" class="c" d="M-10,170C-10,170 2,188 10,170C18,152 33,90 40,60C47,30 50,-10 50,-10C50,-10 82,-10 82,-10C82,-10 62,40 70,60C78,80 113,87 130,110C147,133 161,168 170,200C179,232 178,270 185,300C192,330 198,358 210,380C222,402 250,413 260,430C270,447 265,465 270,480C275,495 288,500 290,520C292,540 280,572 280,600C280,628 283,665 290,688C297,711 310,721 320,738C330,755 341,771 350,788C359,805 372,818 375,838C378,858 366,891 370,908C374,925 387,930 400,938C413,946 433,948 450,958C467,968 482,985 500,998C518,1011 543,1023 560,1038C577,1053 588,1071 600,1088C612,1105 622,1118 630,1138C638,1158 646,1183 650,1208C654,1233 652,1253 655,1288C658,1323 665,1420 665,1420C665,1420 -10,1420 -10,1420C-10,1420 -10,170 -10,170Z"/>
<path fill="#efd21f" class="c" d="M760,1128C762,1121 785,1128 800,1118C815,1108 833,1075 850,1068C867,1061 882,1078 900,1078C918,1078 937,1073 960,1068C983,1063 1040,1050 1040,1050C1040,1050 1040,1408 1040,1408C1040,1408 750,1408 750,1408C750,1408 757,1338 760,1308C763,1278 765,1253 770,1228C775,1203 792,1175 790,1158C788,1141 758,1135 760,1128Z"/>
<path fill="#f07027" class="c" d="M280,998C283,982 305,978 320,973C335,968 357,964 370,968C383,972 388,995 400,998C412,1001 427,986 440,988C453,990 467,998 480,1008C493,1018 505,1037 520,1048C535,1059 557,1063 570,1073C583,1083 591,1094 600,1108C609,1122 619,1138 625,1158C631,1178 635,1206 635,1228C635,1250 631,1271 625,1288C619,1305 614,1321 600,1328C586,1335 560,1332 540,1330C520,1328 494,1320 480,1313C466,1306 457,1296 455,1288C453,1280 461,1273 470,1268C479,1263 502,1266 510,1258C518,1250 523,1230 520,1218C517,1206 503,1196 490,1188C477,1180 452,1166 440,1168C428,1170 430,1193 420,1198C410,1203 390,1193 380,1198C370,1203 367,1233 360,1228C353,1223 348,1185 340,1168C332,1151 317,1145 310,1128C303,1111 305,1090 300,1068C295,1046 277,1014 280,998Z"/>
<path fill="#e10a1e" class="c" d="M405,950C408,944 426,941 435,943C444,945 458,956 460,963C462,970 457,982 450,984C443,986 428,984 420,978C412,972 402,956 405,950Z"/>
<path fill="#efd21f" class="c" d="M530,1108C534,1098 548,1098 550,1103C552,1108 549,1128 545,1138C541,1148 528,1169 525,1164C522,1159 526,1118 530,1108Z"/>
<path fill="#f07027" class="c" d="M8,1408C8,1408 15,1286 20,1248C25,1210 32,1195 40,1183C48,1171 58,1172 70,1178C82,1184 97,1205 110,1218C123,1231 141,1240 150,1258C159,1276 160,1303 165,1328C170,1353 177,1408 177,1408C177,1408 8,1408 8,1408Z"/>
<ellipse fill="#f07027" class="c" cx="845" cy="1376" rx="15" ry="14"/>
<path fill="none" stroke="#3a3a20" stroke-width="4" stroke-opacity=".55" d="M660,0C660,0 640,95 640,95C640,95 560,420 560,420C560,420 940,980 940,980C940,980 960,1040 960,1040C960,1040 950,1100 950,1100C950,1100 905,1230 905,1230C905,1230 880,1290 880,1290"/>
<path fill="none" stroke="#3a3a20" stroke-width="4" stroke-opacity=".55" d="M330,0 L1024,175"/>
<path fill="none" stroke="#3a3a20" stroke-width="4" stroke-opacity=".55" d="M915,0 L905,150"/>
<path fill="none" stroke="#3a3a20" stroke-width="4" stroke-opacity=".55" d="M660,1243C660,1243 900,1263 900,1263C900,1263 1024,1378 1024,1378"/>
<path fill="none" stroke="#3a3a20" stroke-width="4" stroke-opacity=".55" stroke-dasharray="10 9" d="M10,150C10,150 620,320 620,320C620,320 1024,420 1024,420"/>
<path fill="none" stroke="#3a3a20" stroke-width="4" stroke-opacity=".55" stroke-dasharray="10 9" d="M560,430 L320,1378"/>
</svg>
<div class="ut" style="left:492px;top:363.2px">00 UT</div>
<svg class="map" style="left:691px;top:174px" width="129.7" height="176.7" viewBox="0 0 1024 1394" preserveAspectRatio="none">
<rect x="-20" y="-20" width="1064" height="1434" fill="#23a85f"/>
<path fill="#1798c9" class="c" d="M-10,-10C-10,-10 287,-10 287,-10C287,-10 286,35 280,60C274,85 263,120 250,140C237,160 220,172 200,180C180,188 150,184 130,190C110,196 97,213 80,215C63,217 45,205 30,200C15,195 -10,185 -10,185C-10,185 -10,-10 -10,-10Z"/>
<path fill="#1798c9" class="c" d="M130,190C138,180 183,173 200,180C217,187 222,210 230,230C238,250 240,287 250,300C260,313 280,317 290,310C300,303 302,275 310,260C318,245 325,228 340,220C355,212 383,220 400,215C417,210 423,196 440,190C457,184 482,181 500,180C518,179 533,185 550,185C567,185 585,184 600,180C615,176 630,160 640,160C650,160 660,170 660,180C660,190 650,210 640,220C630,230 613,241 600,240C587,239 573,212 560,215C547,218 530,246 520,260C510,274 505,287 500,300C495,313 488,325 490,340C492,355 502,378 510,390C518,402 534,415 540,410C546,405 542,375 545,360C548,345 552,328 560,320C568,312 580,312 590,315C600,318 602,335 620,340C638,345 677,346 700,345C723,344 746,331 760,335C774,339 780,354 785,370C790,386 788,413 790,430C792,447 803,455 800,470C797,485 778,505 770,520C762,535 757,547 750,560C743,573 742,591 730,600C718,609 695,612 680,612C665,612 650,609 640,600C630,591 628,573 620,560C612,547 602,523 590,520C578,517 553,527 545,540C537,553 538,574 540,600C542,626 548,668 555,693C562,718 579,733 580,753C581,773 562,793 560,813C558,833 562,853 570,873C578,893 595,915 610,933C625,951 647,966 660,983C673,1000 681,1015 690,1033C699,1051 710,1070 715,1093C720,1116 721,1146 720,1173C719,1200 713,1226 710,1253C707,1280 702,1305 700,1333C698,1361 695,1420 695,1420C695,1420 320,1420 320,1420C320,1420 317,1331 315,1293C313,1255 316,1221 310,1193C304,1165 292,1146 280,1123C268,1100 250,1076 240,1053C230,1030 227,1010 220,983C213,956 207,921 200,893C193,865 187,838 180,813C173,788 168,763 160,743C152,723 140,717 130,693C120,669 108,629 100,600C92,571 88,545 85,520C82,495 78,470 80,450C82,430 98,420 100,400C102,380 92,343 95,330C98,317 114,312 120,320C126,328 123,367 130,380C137,393 151,402 160,400C169,398 182,387 185,370C188,353 186,322 180,300C174,278 158,258 150,240C142,222 122,200 130,190Z"/>
<path fill="#23a85f" class="c" d="M280,420C283,411 308,410 320,415C332,420 347,439 350,450C353,461 348,479 340,482C332,485 310,480 300,470C290,460 277,429 280,420Z"/>
<path fill="#23a85f" class="c" d="M650,395C655,388 676,382 685,385C694,388 707,406 706,415C705,424 688,440 680,442C672,444 660,433 655,425C650,417 645,402 650,395Z"/>
<ellipse fill="#23a85f" class="c" cx="440" cy="958" rx="28" ry="12" transform="rotate(10 440 958)"/>
<ellipse fill="#1798c9" class="c" cx="625" cy="831" rx="21" ry="21"/>
<ellipse fill="#23a85f" class="c" cx="625" cy="831" rx="10" ry="10"/>
<path fill="#1798c9" class="c" d="M910,210C918,200 943,199 960,200C977,201 997,208 1010,215C1023,222 1040,240 1040,240C1040,240 1007,268 990,276C973,284 952,294 940,291C928,288 920,274 915,260C910,246 902,220 910,210Z"/>
<path fill="#1798c9" class="c" d="M985,325C993,316 1040,318 1040,318C1040,318 1040,377 1040,377C1040,377 999,379 990,370C981,361 977,334 985,325Z"/>
<path fill="#1798c9" class="c" d="M985,-10C985,-10 1040,-10 1040,-10C1040,-10 1040,100 1040,100C1040,100 999,78 990,60C981,42 985,-10 985,-10Z"/>
<path fill="#1798c9" class="c" d="M-10,1283C-10,1283 25,1265 40,1263C55,1261 70,1263 80,1273C90,1283 90,1311 100,1323C110,1335 130,1328 140,1343C150,1358 162,1413 162,1413C162,1413 -10,1413 -10,1413C-10,1413 -10,1283 -10,1283Z"/>
<path fill="#2f4692" class="c" d="M300,560C306,550 326,538 340,530C354,522 374,513 385,515C396,517 407,530 406,540C405,550 391,567 380,576C369,585 352,590 340,592C328,594 312,595 305,590C298,585 294,570 300,560Z"/>
<path fill="#2f4692" class="c" d="M308,700C308,691 316,670 330,660C344,650 374,642 390,640C406,638 420,641 425,650C430,659 422,681 420,693C418,705 418,717 410,723C402,729 383,732 370,730C357,728 340,719 330,714C320,709 308,709 308,700Z"/>
<path fill="#2f4692" class="c" d="M400,843C409,831 423,826 440,823C457,820 487,820 500,828C513,836 516,857 516,873C516,889 511,912 500,923C489,934 467,937 450,939C433,941 411,941 400,933C389,925 385,908 385,893C385,878 391,855 400,843Z"/>
<ellipse fill="#283a8c" class="c" cx="440" cy="883" rx="22" ry="20"/>
<path fill="#2f4692" class="c" d="M500,1073C508,1060 523,1054 540,1053C557,1052 583,1063 600,1068C617,1073 628,1072 640,1083C652,1094 662,1111 670,1133C678,1155 680,1186 685,1213C690,1240 699,1260 700,1293C701,1326 692,1413 692,1413C692,1413 550,1413 550,1413C550,1413 538,1346 530,1313C522,1280 506,1243 500,1213C494,1183 495,1156 495,1133C495,1110 492,1086 500,1073Z"/>
<path fill="#7fc233" class="c" d="M940,753C945,728 973,695 990,683C1007,671 1040,683 1040,683C1040,683 1040,1413 1040,1413C1040,1413 720,1413 720,1413C720,1413 725,1330 725,1293C725,1256 718,1216 720,1193C722,1170 727,1160 740,1153C753,1146 782,1151 800,1148C818,1145 837,1144 850,1133C863,1122 870,1101 880,1083C890,1065 902,1043 910,1023C918,1003 923,985 930,963C937,941 945,915 950,893C955,871 962,856 960,833C958,810 935,778 940,753Z"/>
<ellipse fill="#23a85f" class="c" cx="800" cy="1168" rx="25" ry="25"/>
<ellipse fill="#23a85f" class="c" cx="945" cy="1168" rx="26" ry="24"/>
<path fill="#23a85f" class="c" d="M900,1293C912,1280 932,1267 950,1263C968,1259 995,1265 1010,1268C1025,1271 1040,1283 1040,1283C1040,1283 1040,1413 1040,1413C1040,1413 900,1413 900,1413C900,1413 880,1363 880,1343C880,1323 888,1306 900,1293Z"/>
<ellipse fill="#1798c9" class="c" cx="955" cy="1375" rx="20" ry="20"/>
<path fill="#23a85f" class="c" d="M965,858C967,849 988,844 1000,843C1012,842 1040,853 1040,853C1040,853 1040,893 1040,893C1040,893 1002,904 990,898C978,892 963,867 965,858Z"/>
<path fill="#efd21f" class="c" d="M760,1293C767,1275 778,1246 790,1233C802,1220 817,1213 830,1213C843,1213 861,1223 870,1233C879,1243 884,1260 882,1273C880,1286 862,1300 860,1313C858,1326 871,1336 870,1353C869,1370 852,1413 852,1413C852,1413 760,1413 760,1413C760,1413 750,1363 750,1343C750,1323 753,1311 760,1293Z"/>
<ellipse fill="#f07027" class="c" cx="830" cy="1363" rx="30" ry="28"/>
<ellipse fill="#e10a1e" class="c" cx="832" cy="1365" rx="19" ry="18"/>
<path fill="#23a85f" class="c" d="M790,1293C790,1284 796,1281 800,1288C804,1295 815,1324 815,1333C815,1342 804,1350 800,1343C796,1336 790,1302 790,1293Z"/>
<path fill="none" stroke="#3a3a20" stroke-width="4" stroke-opacity=".55" d="M655,0C655,0 600,380 600,380C600,380 940,870 940,870C940,870 965,1000 965,1000C965,1000 905,1180 905,1180C905,1180 925,1260 925,1260"/>
<path fill="none" stroke="#3a3a20" stroke-width="4" stroke-opacity=".55" d="M400,25 L1024,180"/>
<path fill="none" stroke="#3a3a20" stroke-width="4" stroke-opacity=".55" d="M940,0 L910,150"/>
<path fill="none" stroke="#3a3a20" stroke-width="4" stroke-opacity=".55" d="M600,320 L1024,420"/>
<path fill="none" stroke="#3a3a20" stroke-width="4" stroke-opacity=".55" d="M660,1245 L1024,1275"/>
<path fill="none" stroke="#3a3a20" stroke-width="4" stroke-opacity=".55" d="M230,200C230,200 330,520 330,520C330,520 320,1394 320,1394"/>
</svg>
<div class="ut" style="left:701.3px;top:182.2px">06 UT</div>
<svg class="map" style="left:823.3px;top:174px" width="130.2" height="176.7" viewBox="0 0 1024 1394" preserveAspectRatio="none">
<rect x="-20" y="-20" width="1064" height="1434" fill="#23a85f"/>
<path fill="#1798c9" class="c" d="M-10,-10C-10,-10 290,-10 290,-10C290,-10 292,68 300,100C308,132 323,165 340,180C357,195 380,191 400,190C420,189 440,177 460,175C480,173 503,172 520,180C537,188 548,203 560,220C572,237 582,262 590,280C598,298 600,327 610,330C620,333 635,303 650,300C665,297 682,302 700,310C718,318 743,347 760,350C777,353 788,340 800,330C812,320 818,297 830,290C842,283 860,283 870,290C880,297 880,328 890,330C900,332 918,317 930,300C942,283 950,250 960,230C970,210 982,190 990,180C998,170 1003,167 1005,170C1007,173 1006,183 1000,200C994,217 980,248 970,270C960,292 928,324 940,330C952,336 1040,308 1040,308C1040,308 1040,392 1040,392C1040,392 982,390 970,400C958,410 973,432 965,450C957,468 934,492 920,510C906,528 895,547 880,560C865,573 843,577 830,590C817,603 817,628 800,640C783,652 747,650 730,660C713,670 712,693 700,700C688,707 668,713 660,700C652,687 650,640 650,620C650,600 652,590 660,580C668,570 690,582 700,560C710,538 723,465 720,450C717,435 695,465 680,470C665,475 647,483 630,480C613,477 592,463 580,450C568,437 567,412 560,400C553,388 548,380 540,380C532,380 518,388 510,400C502,412 497,430 495,450C493,470 496,495 500,520C504,545 512,572 520,600C528,628 532,671 545,688C558,705 589,690 600,700C611,710 605,727 610,748C615,769 622,801 630,828C638,855 645,890 660,908C675,926 703,930 720,938C737,946 755,950 760,958C765,966 760,981 750,988C740,995 712,993 700,998C688,1003 682,1003 680,1018C678,1033 690,1063 690,1088C690,1113 683,1141 680,1168C677,1195 672,1206 670,1248C668,1290 665,1420 665,1420C665,1420 330,1420 330,1420C330,1420 327,1340 320,1308C313,1276 302,1253 290,1228C278,1203 258,1185 250,1158C242,1131 245,1098 240,1068C235,1038 227,1008 220,978C213,948 207,920 200,888C193,856 187,815 180,788C173,761 168,745 160,728C152,711 139,709 130,688C121,667 112,631 105,600C98,569 91,533 90,500C89,467 97,433 100,400C103,367 106,330 110,300C114,270 130,237 125,220C120,203 102,206 80,200C58,194 -10,185 -10,185C-10,185 -10,-10 -10,-10Z"/>
<path fill="#23a85f" class="c" d="M290,410C307,399 360,387 380,385C400,383 406,389 410,400C414,411 411,438 406,450C401,462 396,466 380,470C364,474 327,479 310,476C293,473 283,461 280,450C277,439 273,421 290,410Z"/>
<ellipse fill="#23a85f" class="c" cx="515" cy="330" rx="15" ry="18"/>
<ellipse fill="#23a85f" class="c" cx="430" cy="938" rx="16" ry="14"/>
<path fill="#1798c9" class="c" d="M960,-10C960,-10 1040,-10 1040,-10C1040,-10 1040,150 1040,150C1040,150 1007,165 990,175C973,185 951,212 940,210C929,208 925,185 925,160C925,135 934,88 940,60C946,32 960,-10 960,-10Z"/>
<path fill="#1798c9" class="c" d="M-10,1258C-10,1258 32,1236 50,1228C68,1220 87,1205 100,1208C113,1211 122,1231 130,1248C138,1265 141,1281 150,1308C159,1335 182,1408 182,1408C182,1408 -10,1408 -10,1408C-10,1408 -10,1258 -10,1258Z"/>
<path fill="#2f4692" class="c" d="M300,560C306,550 326,538 340,530C354,522 375,513 385,515C395,517 402,528 400,540C398,552 370,577 370,590C370,603 388,612 400,620C412,628 437,629 440,640C443,651 425,676 420,688C415,700 414,705 410,710C406,715 402,717 395,720C388,723 380,730 370,728C360,726 345,714 335,708C325,702 309,701 310,690C311,679 333,655 340,640C347,625 356,608 350,600C344,592 313,597 305,590C297,583 294,570 300,560Z"/>
<path fill="#2f4692" class="c" d="M455,520C457,507 465,510 470,520C475,530 481,560 485,580C489,600 494,627 493,640C492,653 482,663 476,656C470,649 464,623 460,600C456,577 453,533 455,520Z"/>
<ellipse fill="#2f4692" class="c" cx="470" cy="893" rx="35" ry="28" transform="rotate(15 470 893)"/>
<path fill="#2f4692" class="c" d="M430,1028C434,1011 452,1010 470,1008C488,1006 518,1008 540,1013C562,1018 585,1022 600,1038C615,1054 622,1083 630,1108C638,1133 644,1161 650,1188C656,1215 661,1231 665,1268C669,1305 672,1408 672,1408C672,1408 520,1408 520,1408C520,1408 508,1325 500,1288C492,1251 479,1218 470,1188C461,1158 452,1135 445,1108C438,1081 426,1045 430,1028Z"/>
<path fill="#7fc233" class="c" d="M700,1288C703,1255 713,1235 720,1208C727,1181 728,1146 740,1128C752,1110 773,1105 790,1098C807,1091 827,1095 840,1088C853,1081 860,1071 870,1058C880,1045 888,1023 900,1008C912,993 930,985 940,968C950,951 958,923 960,908C962,893 957,886 950,878C943,870 927,870 920,858C913,846 908,821 910,808C912,795 930,788 930,778C930,768 910,759 910,748C910,737 918,718 930,713C942,708 962,712 980,718C998,724 1040,748 1040,748C1040,748 1040,1408 1040,1408C1040,1408 700,1408 700,1408C700,1408 697,1321 700,1288Z"/>
<path fill="#efd21f" class="c" d="M698,1408C698,1408 698,1323 705,1308C712,1293 731,1328 740,1318C749,1308 755,1273 760,1248C765,1223 763,1178 770,1168C777,1158 790,1188 800,1188C810,1188 818,1165 830,1168C842,1171 860,1195 870,1208C880,1221 894,1235 892,1248C890,1261 870,1275 860,1288C850,1301 835,1308 830,1328C825,1348 832,1408 832,1408C832,1408 698,1408 698,1408Z"/>
<path fill="#efd21f" class="c" d="M925,1088C930,1080 948,1078 960,1073C972,1068 987,1061 1000,1058C1013,1055 1040,1056 1040,1056C1040,1056 1040,1250 1040,1250C1040,1250 999,1248 990,1228C981,1208 992,1148 985,1128C978,1108 959,1110 950,1108C941,1106 934,1121 930,1118C926,1115 920,1096 925,1088Z"/>
<path fill="#f07027" class="c" d="M790,1228C797,1217 810,1201 820,1203C830,1205 843,1227 850,1238C857,1249 867,1258 862,1268C857,1278 832,1293 820,1300C808,1307 797,1315 790,1310C783,1305 780,1282 780,1268C780,1254 783,1239 790,1228Z"/>
<ellipse fill="#3a3a20" class="c" cx="818" cy="1255" rx="5" ry="5"/>
<path fill="#23a85f" class="c" d="M858,1408C858,1408 860,1330 870,1308C880,1286 902,1285 920,1278C938,1271 960,1268 980,1268C1000,1268 1040,1278 1040,1278C1040,1278 1040,1408 1040,1408C1040,1408 858,1408 858,1408Z"/>
<path fill="#1798c9" class="c" d="M880,1408C880,1408 880,1351 890,1338C900,1325 927,1326 940,1328C953,1330 964,1335 970,1348C976,1361 977,1408 977,1408C977,1408 880,1408 880,1408Z"/>
<ellipse fill="#23a85f" class="c" cx="790" cy="1168" rx="12" ry="20" transform="rotate(-15 790 1168)"/>
<path fill="none" stroke="#3a3a20" stroke-width="4" stroke-opacity=".55" d="M660,0C660,0 640,95 640,95C640,95 560,420 560,420C560,420 940,980 940,980C940,980 960,1040 960,1040C960,1040 950,1100 950,1100C950,1100 905,1230 905,1230"/>
<path fill="none" stroke="#3a3a20" stroke-width="4" stroke-opacity=".55" d="M330,0 L1024,175"/>
<path fill="none" stroke="#3a3a20" stroke-width="4" stroke-opacity=".55" d="M940,0 L905,150"/>
<path fill="none" stroke="#3a3a20" stroke-width="4" stroke-opacity=".55" d="M230,200C230,200 640,330 640,330C640,330 1024,420 1024,420"/>
<path fill="none" stroke="#3a3a20" stroke-width="4" stroke-opacity=".55" d="M660,1243 L1024,1258"/>
<path fill="none" stroke="#3a3a20" stroke-width="4" stroke-opacity=".55" d="M230,200C230,200 260,420 260,420C260,420 330,520 330,520C330,520 320,1394 320,1394"/>
</svg>
<div class="ut" style="left:834.5999999999999px;top:181.4px">12 UT</div>
<svg class="map" style="left:691px;top:355px" width="129.7" height="176.5" viewBox="0 0 1024 1394" preserveAspectRatio="none">
<rect x="-20" y="-20" width="1064" height="1434" fill="#23a85f"/>
<path fill="#1798c9" class="c" d="M-10,-10C-10,-10 287,-10 287,-10C287,-10 281,53 275,80C269,107 258,132 250,150C242,168 232,173 230,190C228,207 235,233 240,250C245,267 253,292 260,290C267,288 273,255 280,240C287,225 290,202 300,200C310,198 323,222 340,230C357,238 383,244 400,245C417,246 430,231 440,235C450,239 453,256 460,270C467,284 472,308 480,320C488,332 504,335 510,345C516,355 518,368 516,380C514,392 504,403 500,420C496,437 494,457 495,480C496,503 499,537 505,560C511,583 521,598 530,620C539,642 550,680 560,693C570,706 582,687 590,700C598,713 603,748 605,773C607,798 605,828 600,853C595,878 580,903 575,923C570,943 564,958 570,973C576,988 598,996 610,1013C622,1030 632,1050 640,1073C648,1096 655,1123 660,1153C665,1183 666,1208 670,1253C674,1298 682,1420 682,1420C682,1420 350,1420 350,1420C350,1420 328,1331 320,1293C312,1255 307,1226 300,1193C293,1160 288,1126 280,1093C272,1060 260,1026 250,993C240,960 230,926 220,893C210,860 200,825 190,793C180,761 172,729 160,700C148,671 130,647 120,620C110,593 104,568 100,540C96,512 94,475 95,450C96,425 98,407 105,390C112,373 134,368 140,350C146,332 145,305 140,280C135,255 118,218 110,200C102,182 102,178 90,170C78,162 57,157 40,150C23,143 -10,130 -10,130C-10,130 -10,-10 -10,-10Z"/>
<path fill="#23a85f" class="c" d="M270,400C280,392 312,388 330,390C348,392 365,412 380,410C395,408 410,382 420,380C430,378 438,387 440,400C442,413 435,443 430,460C425,477 422,495 410,500C398,505 378,495 360,490C342,485 315,478 300,470C285,462 275,452 270,440C265,428 260,408 270,400Z"/>
<path fill="#1798c9" class="c" d="M590,340C595,327 622,322 640,320C658,318 683,324 700,330C717,336 725,352 740,355C755,358 775,358 790,350C805,342 815,319 830,310C845,301 863,293 880,295C897,297 921,309 930,320C939,331 941,347 936,360C931,373 914,388 900,400C886,412 867,418 850,430C833,442 813,455 800,470C787,485 772,503 770,520C768,537 785,555 790,570C795,585 805,601 802,610C799,619 782,627 770,622C758,617 743,597 730,580C717,563 703,542 690,520C677,498 663,470 650,450C637,430 620,418 610,400C600,382 585,353 590,340Z"/>
<path fill="#1798c9" class="c" d="M-10,1333C-10,1333 32,1318 50,1318C68,1318 83,1317 100,1333C117,1349 152,1413 152,1413C152,1413 -10,1413 -10,1413C-10,1413 -10,1333 -10,1333Z"/>
<ellipse fill="#23a85f" class="c" cx="420" cy="863" rx="20" ry="20"/>
<ellipse fill="#7fc233" class="c" cx="422" cy="865" rx="9" ry="9"/>
<ellipse fill="#23a85f" class="c" cx="425" cy="938" rx="20" ry="18"/>
<ellipse fill="#7fc233" class="c" cx="427" cy="938" rx="9" ry="8"/>
<path fill="#2f4692" class="c" d="M318,700C320,688 333,653 345,640C357,627 378,620 390,620C402,620 413,627 415,640C417,653 407,688 400,700C393,712 386,710 375,712C364,714 344,712 335,710C326,708 316,712 318,700Z"/>
<path fill="#2f4692" class="c" d="M445,1093C447,1076 464,1050 470,1033C476,1016 472,995 480,993C488,991 505,1013 520,1023C535,1033 555,1040 570,1053C585,1066 598,1083 610,1103C622,1123 632,1148 640,1173C648,1198 654,1213 660,1253C666,1293 674,1413 674,1413C674,1413 540,1413 540,1413C540,1413 528,1330 520,1293C512,1256 500,1220 490,1193C480,1166 468,1150 460,1133C452,1116 443,1110 445,1093Z"/>
<path fill="#7fc233" class="c" d="M700,1133C707,1105 717,1095 730,1083C743,1071 770,1075 780,1063C790,1051 782,1023 790,1013C798,1003 815,1001 830,1003C845,1005 865,1015 880,1023C895,1031 908,1041 920,1053C932,1065 941,1086 950,1093C959,1100 972,1101 975,1093C978,1085 966,1056 970,1043C974,1030 988,1018 1000,1013C1012,1008 1040,1011 1040,1011C1040,1011 1040,1413 1040,1413C1040,1413 690,1413 690,1413C690,1413 688,1300 690,1253C692,1206 693,1161 700,1133Z"/>
<path fill="#efd21f" class="c" d="M700,1413C700,1413 695,1323 700,1303C705,1283 722,1301 730,1293C738,1285 743,1273 745,1253C747,1233 738,1196 740,1173C742,1150 752,1125 760,1118C768,1111 778,1122 790,1133C802,1144 815,1168 830,1183C845,1198 866,1213 880,1223C894,1233 913,1231 916,1243C919,1255 904,1276 900,1293C896,1310 893,1323 890,1343C887,1363 880,1413 880,1413C880,1413 700,1413 700,1413Z"/>
<ellipse fill="#23a85f" class="c" cx="795" cy="1173" rx="14" ry="25" transform="rotate(-25 795 1173)"/>
<path fill="#23a85f" class="c" d="M918,1413C918,1413 920,1372 930,1363C940,1354 968,1350 980,1358C992,1366 1002,1413 1002,1413C1002,1413 918,1413 918,1413Z"/>
<ellipse fill="#7fc233" class="c" cx="1005" cy="833" rx="15" ry="17"/>
<ellipse fill="#efd21f" class="c" cx="567" cy="425" rx="11" ry="13"/>
<path fill="none" stroke="#3a3a20" stroke-width="4" stroke-opacity=".55" d="M660,95C660,95 565,430 565,430C565,430 745,700 745,700C745,700 940,1000 940,1000C940,1000 975,1090 975,1090C975,1090 905,1220 905,1220C905,1220 890,1290 890,1290"/>
<path fill="none" stroke="#3a3a20" stroke-width="4" stroke-opacity=".55" d="M400,25 L1024,180"/>
<path fill="none" stroke="#3a3a20" stroke-width="4" stroke-opacity=".55" d="M940,0 L910,150"/>
<path fill="none" stroke="#3a3a20" stroke-width="4" stroke-opacity=".55" d="M660,1245C660,1245 900,1270 900,1270C900,1270 1024,1370 1024,1370"/>
<path fill="none" stroke="#3a3a20" stroke-width="4" stroke-opacity=".55" d="M230,190C230,190 260,420 260,420C260,420 330,520 330,520C330,520 320,693 320,693C320,693 480,1000 480,1000C480,1000 330,1394 330,1394"/>
</svg>
<div class="ut" style="left:701.3px;top:363.2px">18 UT</div>
<svg class="map" style="left:823.3px;top:355px" width="130.2" height="176.5" viewBox="0 0 1024 1394" preserveAspectRatio="none">
<rect x="-20" y="-20" width="1064" height="1434" fill="#23a85f"/>
<path fill="#1798c9" class="c" d="M-10,-10C-10,-10 297,-10 297,-10C297,-10 288,53 280,80C272,107 257,130 250,150C243,170 238,177 240,200C242,223 252,285 260,290C268,295 280,248 290,230C300,212 302,197 320,180C338,163 378,140 400,130C422,120 439,112 450,120C461,128 465,158 466,180C467,202 459,232 455,250C451,268 449,280 440,290C431,300 412,303 400,310C388,317 375,320 370,330C365,340 375,360 370,370C365,380 353,385 340,390C327,395 300,392 290,400C280,408 273,430 280,440C287,450 320,452 330,460C340,468 328,483 340,490C352,497 380,499 400,500C420,501 443,490 460,495C477,500 488,516 500,530C512,544 520,562 530,580C540,598 553,622 560,640C567,658 569,670 572,688C575,706 580,725 580,748C580,771 576,801 570,828C564,855 553,888 545,908C537,928 531,940 520,948C509,956 478,950 480,958C482,966 512,983 530,998C548,1013 572,1030 590,1048C608,1066 628,1085 640,1108C652,1131 658,1158 665,1188C672,1218 676,1249 680,1288C684,1327 692,1420 692,1420C692,1420 350,1420 350,1420C350,1420 345,1330 340,1288C335,1246 328,1205 320,1168C312,1131 302,1101 290,1068C278,1035 262,1005 250,968C238,931 229,883 220,848C211,813 203,783 195,758C187,733 178,726 170,700C162,674 151,630 145,600C139,570 134,547 135,520C136,493 142,463 150,440C158,417 174,403 180,380C186,357 187,325 185,300C183,275 181,250 170,230C159,210 138,195 120,180C102,165 82,153 60,140C38,127 -10,100 -10,100C-10,100 -10,-10 -10,-10Z"/>
<ellipse fill="#1798c9" class="c" cx="520" cy="258" rx="42" ry="14" transform="rotate(40 520 258)"/>
<ellipse fill="#1798c9" class="c" cx="625" cy="325" rx="30" ry="17" transform="rotate(-10 625 325)"/>
<ellipse fill="#1798c9" class="c" cx="875" cy="385" rx="42" ry="22" transform="rotate(-30 875 385)"/>
<ellipse fill="#1798c9" class="c" cx="20" cy="1370" rx="20" ry="18"/>
<ellipse fill="#efd21f" class="c" cx="365" cy="15" rx="30" ry="18"/>
<ellipse fill="#23a85f" class="c" cx="345" cy="600" rx="26" ry="15" transform="rotate(-10 345 600)"/>
<path fill="#23a85f" class="c" d="M380,758C382,746 405,735 420,733C435,731 455,736 470,748C485,760 500,786 510,808C520,830 532,859 530,878C528,897 510,917 500,920C490,923 478,912 470,898C462,884 460,853 450,838C440,823 422,821 410,808C398,795 378,770 380,758Z"/>
<path fill="#23a85f" class="c" d="M440,948C443,943 470,935 480,938C490,941 503,963 500,968C497,973 470,973 460,970C450,967 437,953 440,948Z"/>
<path fill="#2f4692" class="c" d="M318,700C315,693 325,660 330,660C335,660 349,693 347,700C345,707 321,707 318,700Z"/>
<path fill="#2f4692" class="c" d="M368,700C367,690 382,655 390,645C398,635 412,632 415,640C418,648 408,684 405,695C402,706 401,704 395,705C389,706 369,710 368,700Z"/>
<path fill="#2f4692" class="c" d="M500,1038C508,1026 525,1026 540,1033C555,1040 575,1060 590,1078C605,1096 619,1115 630,1138C641,1161 648,1190 655,1218C662,1246 666,1276 670,1308C674,1340 682,1408 682,1408C682,1408 570,1408 570,1408C570,1408 550,1325 540,1288C530,1251 518,1218 510,1188C502,1158 497,1133 495,1108C493,1083 492,1050 500,1038Z"/>
<path fill="#7fc233" class="c" d="M700,1308C705,1285 717,1281 730,1268C743,1255 767,1241 780,1228C793,1215 808,1200 810,1188C812,1176 798,1165 790,1158C782,1151 765,1155 760,1148C755,1141 753,1126 760,1118C767,1110 788,1108 800,1098C812,1088 817,1066 830,1058C843,1050 860,1050 880,1048C900,1046 923,1050 950,1048C977,1046 1040,1036 1040,1036C1040,1036 1040,1408 1040,1408C1040,1408 700,1408 700,1408C700,1408 695,1331 700,1308Z"/>
<ellipse fill="#efd21f" class="c" cx="830" cy="1263" rx="19" ry="56" transform="rotate(32 830 1263)"/>
<ellipse fill="#23a85f" class="c" cx="880" cy="1376" rx="18" ry="18"/>
<path fill="none" stroke="#3a3a20" stroke-width="4" stroke-opacity=".55" d="M660,0C660,0 640,95 640,95C640,95 560,420 560,420C560,420 940,980 940,980C940,980 960,1040 960,1040C960,1040 950,1100 950,1100C950,1100 905,1230 905,1230C905,1230 880,1290 880,1290"/>
<path fill="none" stroke="#3a3a20" stroke-width="4" stroke-opacity=".55" d="M330,0 L1024,175"/>
<path fill="none" stroke="#3a3a20" stroke-width="4" stroke-opacity=".55" d="M915,0 L905,150"/>
<path fill="none" stroke="#3a3a20" stroke-width="4" stroke-opacity=".55" d="M660,1243C660,1243 900,1263 900,1263C900,1263 1024,1378 1024,1378"/>
<path fill="none" stroke="#3a3a20" stroke-width="4" stroke-opacity=".55" stroke-dasharray="10 9" d="M10,100C10,100 620,320 620,320C620,320 1024,420 1024,420"/>
<path fill="none" stroke="#3a3a20" stroke-width="4" stroke-opacity=".55" d="M230,190C230,190 260,420 260,420C260,420 330,520 330,520C330,520 320,693 320,693C320,693 480,1000 480,1000C480,1000 330,1394 330,1394"/>
</svg>
<div class="ut" style="left:833.5999999999999px;top:363.2px">00 UT</div>

<!-- colour bars -->
<div class="cb" style="left:289px"><i style="background:#e2071c"></i><i style="background:#f07026"></i><i style="background:#efd11f"></i><i style="background:#80c232"></i><i style="background:#23a85f"></i><i style="background:#1496c8"></i><i style="background:#30489a"></i><i style="background:#283a8c"></i></div>
<div class="cb" style="left:630px"><i style="background:#e2071c"></i><i style="background:#f07026"></i><i style="background:#efd11f"></i><i style="background:#80c232"></i><i style="background:#23a85f"></i><i style="background:#1496c8"></i><i style="background:#30489a"></i><i style="background:#283a8c"></i></div>
<div class="cb" style="left:971px"><i style="background:#e2071c"></i><i style="background:#f07026"></i><i style="background:#efd11f"></i><i style="background:#80c232"></i><i style="background:#23a85f"></i><i style="background:#1496c8"></i><i style="background:#30489a"></i><i style="background:#283a8c"></i></div>
<div class="cl" style="left:297.2px;top:172.6px">4.0</div>
<div class="cl" style="left:297.2px;top:216.4px">3.5</div>
<div class="cl" style="left:297.2px;top:260.3px">3.0</div>
<div class="cl" style="left:297.2px;top:304.2px">2.5</div>
<div class="cl" style="left:297.2px;top:348.0px">2.0</div>
<div class="cl" style="left:297.2px;top:391.9px">1.5</div>
<div class="cl" style="left:297.2px;top:435.7px">1.0</div>
<div class="cl" style="left:297.2px;top:479.6px">0.0</div>
<div class="cl" style="left:297.2px;top:523.4px">-1.0</div>
<div class="cl" style="left:638.4px;top:172.6px">10.0</div>
<div class="cl" style="left:638.4px;top:216.4px">5.0</div>
<div class="cl" style="left:638.4px;top:260.3px">2.0</div>
<div class="cl" style="left:638.4px;top:304.2px">0.0</div>
<div class="cl" style="left:638.4px;top:348.0px">-2.0</div>
<div class="cl" style="left:638.4px;top:391.9px">-5.0</div>
<div class="cl" style="left:638.4px;top:435.7px">-10.0</div>
<div class="cl" style="left:638.4px;top:479.6px">-15.0</div>
<div class="cl" style="left:638.4px;top:523.4px">-20.0</div>
<div class="cl" style="left:979.2px;top:172.6px">3.0</div>
<div class="cl" style="left:979.2px;top:216.4px">2.0</div>
<div class="cl" style="left:979.2px;top:260.3px">1.5</div>
<div class="cl" style="left:979.2px;top:304.2px">1.0</div>
<div class="cl" style="left:979.2px;top:348.0px">0.5</div>
<div class="cl" style="left:979.2px;top:391.9px">0.0</div>
<div class="cl" style="left:979.2px;top:435.7px">-0.5</div>
<div class="cl" style="left:979.2px;top:479.6px">-1.0</div>
<div class="cl" style="left:979.2px;top:523.4px">-1.5</div>

<!-- bullets -->
<div class="box"></div>
<div class="dot" style="top:574.8px"></div>
<div class="bl" id="b1" style="top:564px">Good statistical significance found in temperature and humidity</div>
<div class="bl" id="b2" style="top:600px">but not in other meteorological variable (winds, PBL heights)</div>
<div class="dot" style="top:654.3px"></div>
<div class="bl" id="b3" style="top:643px">Focus primarily on changes in 2 m temperature and humidity</div>
<div class="dot" style="top:696.8px"></div>
<div class="bl" id="b4" style="top:685.5px">Significant warming and drier air over the Sierra Nevada and</div>
<div class="bl" id="b5" style="top:721.7px">Western Nevada</div>
</body>
</html>
